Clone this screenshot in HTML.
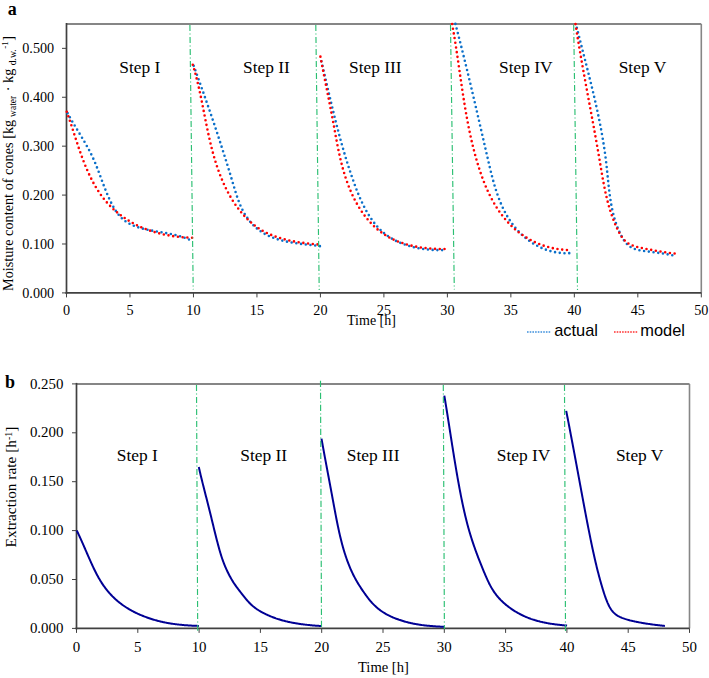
<!DOCTYPE html>
<html><head><meta charset="utf-8"><title>Moisture content and extraction rate</title>
<style>html,body{margin:0;padding:0;background:#fff;}svg{display:block;}text{font-family:"Liberation Serif",serif;fill:#000;}.sans{font-family:"Liberation Sans",sans-serif;}</style></head><body>
<svg width="709" height="678" viewBox="0 0 709 678">
<rect width="709" height="678" fill="#fff"/>
<line x1="66.5" y1="23.9" x2="701.3" y2="23.9" stroke="#868686" stroke-width="2"/>
<line x1="701.3" y1="23.9" x2="701.3" y2="292.9" stroke="#868686" stroke-width="1.6"/>
<line x1="62" y1="292.9" x2="66.5" y2="292.9" stroke="#404040" stroke-width="1"/>
<text x="54.2" y="297.5" font-size="14.2" text-anchor="end">0.000</text>
<line x1="62" y1="243.99" x2="66.5" y2="243.99" stroke="#404040" stroke-width="1"/>
<text x="54.2" y="248.59" font-size="14.2" text-anchor="end">0.100</text>
<line x1="62" y1="195.08" x2="66.5" y2="195.08" stroke="#404040" stroke-width="1"/>
<text x="54.2" y="199.68" font-size="14.2" text-anchor="end">0.200</text>
<line x1="62" y1="146.17" x2="66.5" y2="146.17" stroke="#404040" stroke-width="1"/>
<text x="54.2" y="150.77" font-size="14.2" text-anchor="end">0.300</text>
<line x1="62" y1="97.26" x2="66.5" y2="97.26" stroke="#404040" stroke-width="1"/>
<text x="54.2" y="101.86" font-size="14.2" text-anchor="end">0.400</text>
<line x1="62" y1="48.35" x2="66.5" y2="48.35" stroke="#404040" stroke-width="1"/>
<text x="54.2" y="52.95" font-size="14.2" text-anchor="end">0.500</text>
<line x1="66.5" y1="292.9" x2="66.5" y2="297.4" stroke="#404040" stroke-width="1"/>
<text x="66.5" y="314.8" font-size="14.2" text-anchor="middle">0</text>
<line x1="129.98" y1="292.9" x2="129.98" y2="297.4" stroke="#404040" stroke-width="1"/>
<text x="129.98" y="314.8" font-size="14.2" text-anchor="middle">5</text>
<line x1="193.46" y1="292.9" x2="193.46" y2="297.4" stroke="#404040" stroke-width="1"/>
<text x="193.46" y="314.8" font-size="14.2" text-anchor="middle">10</text>
<line x1="256.94" y1="292.9" x2="256.94" y2="297.4" stroke="#404040" stroke-width="1"/>
<text x="256.94" y="314.8" font-size="14.2" text-anchor="middle">15</text>
<line x1="320.42" y1="292.9" x2="320.42" y2="297.4" stroke="#404040" stroke-width="1"/>
<text x="320.42" y="314.8" font-size="14.2" text-anchor="middle">20</text>
<line x1="383.9" y1="292.9" x2="383.9" y2="297.4" stroke="#404040" stroke-width="1"/>
<text x="383.9" y="314.8" font-size="14.2" text-anchor="middle">25</text>
<line x1="447.38" y1="292.9" x2="447.38" y2="297.4" stroke="#404040" stroke-width="1"/>
<text x="447.38" y="314.8" font-size="14.2" text-anchor="middle">30</text>
<line x1="510.86" y1="292.9" x2="510.86" y2="297.4" stroke="#404040" stroke-width="1"/>
<text x="510.86" y="314.8" font-size="14.2" text-anchor="middle">35</text>
<line x1="574.34" y1="292.9" x2="574.34" y2="297.4" stroke="#404040" stroke-width="1"/>
<text x="574.34" y="314.8" font-size="14.2" text-anchor="middle">40</text>
<line x1="637.82" y1="292.9" x2="637.82" y2="297.4" stroke="#404040" stroke-width="1"/>
<text x="637.82" y="314.8" font-size="14.2" text-anchor="middle">45</text>
<line x1="701.3" y1="292.9" x2="701.3" y2="297.4" stroke="#404040" stroke-width="1"/>
<text x="701.3" y="314.8" font-size="14.2" text-anchor="middle">50</text>
<line x1="66.5" y1="22.9" x2="66.5" y2="293.9" stroke="#404040" stroke-width="1.7"/>
<line x1="65.5" y1="292.9" x2="701.3" y2="292.9" stroke="#404040" stroke-width="1.7"/>
<path d="M66.84,111.72 L67.13,112.28 L67.43,112.84 L67.73,113.4 L68.03,113.97 L68.34,114.53 L68.64,115.08 L68.95,115.64 L69.26,116.2 L69.57,116.76 L69.88,117.31 L70.19,117.87 L70.51,118.42 L70.82,118.98 L71.14,119.53 L71.46,120.08 L71.78,120.63 L72.1,121.18 L72.42,121.73 L72.74,122.28 L73.07,122.83 L73.39,123.38 L73.72,123.93 L74.04,124.48 L74.37,125.03 L74.7,125.57 L75.03,126.12 L75.36,126.67 L75.69,127.21 L76.02,127.76 L76.35,128.3 L76.68,128.85 L77.01,129.39 L77.34,129.94 L77.67,130.49 L78,131.03 L78.33,131.58 L78.66,132.12 L78.99,132.67 L79.32,133.21 L79.65,133.76 L79.98,134.3 L80.31,134.85 L80.64,135.39 L80.97,135.94 L81.3,136.48 L81.63,137.03 L81.96,137.58 L82.28,138.12 L82.61,138.67 L82.93,139.22 L83.26,139.77 L83.58,140.31 L83.9,140.86 L84.23,141.41 L84.55,141.96 L84.87,142.51 L85.18,143.06 L85.5,143.62 L85.82,144.17 L86.13,144.72 L86.44,145.27 L86.76,145.83 L87.07,146.38 L87.37,146.94 L87.68,147.5 L87.99,148.05 L88.29,148.61 L88.59,149.17 L88.89,149.73 L89.19,150.29 L89.48,150.85 L89.78,151.42 L90.07,151.98 L90.36,152.55 L90.64,153.11 L90.93,153.68 L91.21,154.25 L91.49,154.82 L91.77,155.39 L92.05,155.96 L92.32,156.54 L92.59,157.11 L92.86,157.69 L93.12,158.26 L93.38,158.84 L93.64,159.42 L93.9,160 L94.16,160.59 L94.41,161.17 L94.66,161.75 L94.91,162.34 L95.16,162.93 L95.4,163.51 L95.64,164.1 L95.89,164.69 L96.13,165.28 L96.36,165.87 L96.6,166.47 L96.84,167.06 L97.07,167.65 L97.3,168.25 L97.53,168.84 L97.76,169.44 L97.99,170.03 L98.22,170.63 L98.45,171.23 L98.68,171.82 L98.9,172.42 L99.13,173.02 L99.35,173.62 L99.58,174.22 L99.8,174.82 L100.02,175.42 L100.24,176.02 L100.47,176.62 L100.69,177.22 L100.91,177.82 L101.13,178.42 L101.36,179.02 L101.58,179.62 L101.8,180.22 L102.02,180.83 L102.25,181.43 L102.47,182.03 L102.7,182.63 L102.92,183.23 L103.15,183.83 L103.37,184.43 L103.6,185.03 L103.83,185.63 L104.06,186.23 L104.29,186.83 L104.52,187.42 L104.75,188.02 L104.98,188.62 L105.22,189.22 L105.46,189.81 L105.69,190.41 L105.93,191 L106.17,191.6 L106.42,192.19 L106.66,192.79 L106.91,193.38 L107.16,193.97 L107.41,194.56 L107.66,195.15 L107.91,195.74 L108.17,196.33 L108.43,196.92 L108.69,197.5 L108.96,198.09 L109.22,198.67 L109.49,199.25 L109.76,199.84 L110.04,200.42 L110.32,201 L110.6,201.57 L110.88,202.15 L111.17,202.73 L111.46,203.3 L111.75,203.87 L112.05,204.44 L112.35,205.01 L112.65,205.57 L112.96,206.14 L113.27,206.7 L113.59,207.25 L113.91,207.8 L114.23,208.35 L114.56,208.9 L114.9,209.44 L115.23,209.97 L115.58,210.51 L115.92,211.03 L116.28,211.55 L116.64,212.07 L117,212.58 L117.37,213.09 L117.74,213.59 L118.12,214.08 L118.51,214.57 L118.9,215.05 L119.3,215.53 L119.7,215.99 L120.11,216.45 L120.53,216.91 L120.95,217.35 L121.38,217.79 L121.82,218.22 L122.26,218.64 L122.71,219.05 L123.17,219.46 L123.63,219.85 L124.1,220.24 L124.58,220.61 L125.07,220.98 L125.56,221.34 L126.06,221.69 L126.57,222.03 L127.09,222.36 L127.61,222.68 L128.13,223 L128.67,223.3 L129.21,223.6 L129.75,223.89 L130.31,224.17 L130.86,224.45 L131.42,224.71 L131.99,224.97 L132.56,225.23 L133.14,225.47 L133.72,225.71 L134.31,225.95 L134.89,226.17 L135.49,226.39 L136.09,226.61 L136.69,226.82 L137.29,227.02 L137.9,227.22 L138.51,227.41 L139.12,227.6 L139.74,227.78 L140.35,227.96 L140.97,228.13 L141.6,228.3 L142.22,228.47 L142.85,228.63 L143.48,228.78 L144.1,228.94 L144.73,229.09 L145.37,229.23 L146,229.38 L146.63,229.52 L147.26,229.65 L147.9,229.79 L148.53,229.92 L149.16,230.05 L149.8,230.18 L150.43,230.3 L151.07,230.43 L151.7,230.55 L152.34,230.67 L152.97,230.79 L153.61,230.9 L154.24,231.02 L154.88,231.13 L155.51,231.24 L156.15,231.36 L156.79,231.47 L157.42,231.58 L158.06,231.69 L158.69,231.8 L159.33,231.9 L159.96,232.01 L160.6,232.12 L161.23,232.23 L161.86,232.34 L162.5,232.45 L163.13,232.56 L163.76,232.67 L164.39,232.78 L165.03,232.89 L165.66,233.01 L166.29,233.12 L166.92,233.24 L167.55,233.36 L168.17,233.47 L168.8,233.59 L169.43,233.72 L170.05,233.84 L170.68,233.97 L171.3,234.1 L171.93,234.23 L172.55,234.36 L173.17,234.5 L173.79,234.64 L174.41,234.78 L175.03,234.93 L175.64,235.07 L176.26,235.23 L176.87,235.38 L177.49,235.54 L178.1,235.7 L178.71,235.87 L179.32,236.04 L179.93,236.21 L180.53,236.39 L181.14,236.58 L181.74,236.76 L182.34,236.96 L182.94,237.15 L183.54,237.35 L184.14,237.56 L184.73,237.77 L185.33,237.99 L185.92,238.22 L186.51,238.44 L187.1,238.68 L187.68,238.92 L188.27,239.17 L188.85,239.42 L189.43,239.68 L190.01,239.94 L190.59,240.21 L191.16,240.49 L191.73,240.78 L192.3,241.07 L192.65,241.25" fill="none" stroke="#0a6fc9" stroke-width="2.6" stroke-linecap="round" stroke-dasharray="0 4.75" stroke-dashoffset="3.12"/>
<path d="M193.63,65.63 L193.84,66.21 L194.06,66.79 L194.27,67.37 L194.48,67.95 L194.69,68.53 L194.9,69.11 L195.11,69.69 L195.32,70.27 L195.53,70.85 L195.74,71.43 L195.95,72.01 L196.16,72.58 L196.37,73.16 L196.58,73.74 L196.79,74.32 L197,74.9 L197.21,75.47 L197.42,76.05 L197.63,76.63 L197.83,77.2 L198.04,77.78 L198.25,78.36 L198.46,78.93 L198.66,79.51 L198.87,80.09 L199.08,80.66 L199.28,81.24 L199.49,81.82 L199.7,82.39 L199.9,82.97 L200.11,83.54 L200.32,84.12 L200.52,84.69 L200.73,85.27 L200.93,85.84 L201.14,86.42 L201.34,86.99 L201.54,87.57 L201.75,88.14 L201.95,88.71 L202.16,89.29 L202.36,89.86 L202.56,90.44 L202.77,91.01 L202.97,91.59 L203.17,92.16 L203.38,92.73 L203.58,93.31 L203.78,93.88 L203.98,94.45 L204.18,95.03 L204.39,95.6 L204.59,96.17 L204.79,96.75 L204.99,97.32 L205.19,97.89 L205.39,98.46 L205.59,99.04 L205.79,99.61 L205.99,100.18 L206.19,100.76 L206.39,101.33 L206.59,101.9 L206.79,102.47 L206.99,103.05 L207.19,103.62 L207.39,104.19 L207.59,104.76 L207.79,105.34 L207.98,105.91 L208.18,106.48 L208.38,107.05 L208.58,107.62 L208.77,108.2 L208.97,108.77 L209.17,109.34 L209.37,109.91 L209.56,110.49 L209.76,111.06 L209.96,111.63 L210.15,112.2 L210.35,112.77 L210.54,113.35 L210.74,113.92 L210.93,114.49 L211.13,115.06 L211.32,115.64 L211.52,116.21 L211.71,116.78 L211.91,117.35 L212.1,117.93 L212.3,118.5 L212.49,119.07 L212.68,119.64 L212.88,120.22 L213.07,120.79 L213.26,121.36 L213.46,121.93 L213.65,122.51 L213.84,123.08 L214.04,123.65 L214.23,124.22 L214.42,124.8 L214.61,125.37 L214.8,125.94 L215,126.52 L215.19,127.09 L215.38,127.66 L215.57,128.24 L215.76,128.81 L215.95,129.38 L216.14,129.96 L216.33,130.53 L216.52,131.1 L216.71,131.68 L216.9,132.25 L217.09,132.83 L217.28,133.4 L217.47,133.97 L217.66,134.55 L217.85,135.12 L218.04,135.7 L218.23,136.27 L218.41,136.85 L218.6,137.42 L218.79,138 L218.98,138.57 L219.17,139.15 L219.35,139.72 L219.54,140.3 L219.73,140.87 L219.92,141.45 L220.1,142.03 L220.29,142.6 L220.48,143.18 L220.66,143.75 L220.85,144.33 L221.04,144.91 L221.22,145.48 L221.41,146.06 L221.59,146.64 L221.78,147.22 L221.96,147.79 L222.15,148.37 L222.33,148.95 L222.52,149.53 L222.7,150.11 L222.89,150.68 L223.07,151.26 L223.26,151.84 L223.44,152.42 L223.62,153 L223.81,153.58 L223.99,154.16 L224.17,154.74 L224.36,155.32 L224.54,155.9 L224.72,156.48 L224.91,157.06 L225.09,157.64 L225.27,158.22 L225.45,158.8 L225.64,159.38 L225.82,159.97 L226,160.55 L226.18,161.13 L226.36,161.71 L226.54,162.29 L226.72,162.88 L226.91,163.46 L227.09,164.04 L227.27,164.63 L227.45,165.21 L227.63,165.79 L227.81,166.38 L227.99,166.96 L228.17,167.55 L228.35,168.13 L228.53,168.72 L228.71,169.3 L228.89,169.89 L229.07,170.48 L229.24,171.06 L229.42,171.65 L229.6,172.24 L229.78,172.82 L229.96,173.41 L230.14,174 L230.31,174.59 L230.49,175.18 L230.67,175.76 L230.85,176.35 L231.03,176.94 L231.2,177.53 L231.38,178.12 L231.56,178.71 L231.73,179.3 L231.91,179.89 L232.09,180.48 L232.26,181.08 L232.44,181.67 L232.62,182.26 L232.79,182.85 L232.97,183.44 L233.14,184.04 L233.32,184.63 L233.5,185.22 L233.67,185.82 L233.85,186.41 L234.03,187 L234.2,187.6 L234.38,188.19 L234.56,188.78 L234.74,189.37 L234.92,189.97 L235.1,190.56 L235.29,191.15 L235.47,191.74 L235.65,192.33 L235.84,192.92 L236.03,193.51 L236.22,194.09 L236.41,194.68 L236.6,195.26 L236.8,195.85 L236.99,196.43 L237.19,197.01 L237.39,197.59 L237.59,198.17 L237.8,198.75 L238.01,199.33 L238.22,199.9 L238.43,200.48 L238.64,201.05 L238.86,201.62 L239.08,202.19 L239.3,202.75 L239.53,203.32 L239.76,203.88 L239.99,204.44 L240.22,205 L240.46,205.56 L240.71,206.11 L240.95,206.66 L241.2,207.21 L241.45,207.76 L241.71,208.31 L241.97,208.85 L242.24,209.39 L242.5,209.92 L242.8,210.51 L243.11,211.1 L243.42,211.68 L243.74,212.25 L244.06,212.83 L244.39,213.4 L244.72,213.96 L245.06,214.53 L245.4,215.08 L245.75,215.64 L246.11,216.19 L246.47,216.73 L246.84,217.27 L247.21,217.81 L247.59,218.34 L247.98,218.87 L248.37,219.39 L248.76,219.91 L249.17,220.43 L249.57,220.94 L249.99,221.44 L250.41,221.94 L250.83,222.44 L251.26,222.93 L251.69,223.41 L252.13,223.89 L252.58,224.36 L253.03,224.83 L253.49,225.29 L253.95,225.75 L254.42,226.2 L254.89,226.65 L255.37,227.09 L255.85,227.53 L256.34,227.95 L256.83,228.38 L257.33,228.79 L257.84,229.2 L258.35,229.61 L258.86,230.01 L259.38,230.4 L259.9,230.79 L260.43,231.16 L260.97,231.54 L261.51,231.9 L262.05,232.26 L262.6,232.62 L263.15,232.96 L263.71,233.3 L264.28,233.63 L264.84,233.96 L265.42,234.28 L266,234.59 L266.58,234.89 L267.17,235.19 L267.76,235.48 L268.35,235.76 L268.9,236.02 L269.44,236.27 L270,236.51 L270.55,236.75 L271.11,236.98 L271.67,237.21 L272.23,237.43 L272.8,237.65 L273.37,237.86 L273.94,238.07 L274.52,238.28 L275.09,238.48 L275.67,238.67 L276.25,238.86 L276.84,239.05 L277.43,239.23 L278.01,239.41 L278.61,239.59 L279.2,239.76 L279.79,239.92 L280.39,240.09 L280.99,240.25 L281.59,240.4 L282.19,240.55 L282.79,240.7 L283.4,240.85 L284.01,240.99 L284.61,241.13 L285.22,241.26 L285.83,241.4 L286.44,241.53 L287.05,241.65 L287.67,241.78 L288.28,241.9 L288.9,242.01 L289.51,242.13 L290.13,242.24 L290.74,242.35 L291.36,242.46 L291.98,242.56 L292.6,242.67 L293.21,242.77 L293.83,242.87 L294.45,242.96 L295.07,243.06 L295.69,243.15 L296.31,243.24 L296.92,243.33 L297.54,243.41 L298.16,243.5 L298.78,243.58 L299.39,243.67 L300.01,243.75 L300.62,243.83 L301.24,243.9 L301.85,243.98 L302.46,244.06 L303.07,244.13 L303.68,244.2 L304.29,244.28 L304.9,244.35 L305.51,244.42 L306.11,244.49 L306.72,244.56 L307.32,244.63 L307.92,244.7 L308.52,244.77 L309.11,244.84 L309.77,244.91 L310.42,244.99 L311.07,245.06 L311.72,245.14 L312.36,245.21 L313.01,245.29 L313.65,245.36 L314.28,245.44 L314.92,245.51 L315.55,245.59 L316.17,245.67 L316.8,245.75 L317.42,245.83 L318.03,245.91 L318.64,245.99 L319.25,246.07 L319.86,246.15 L320.13,246.19" fill="none" stroke="#0a6fc9" stroke-width="2.6" stroke-linecap="round" stroke-dasharray="0 4.75" stroke-dashoffset="4.51"/>
<path d="M320.36,56.97 L320.51,57.59 L320.66,58.21 L320.81,58.84 L320.95,59.46 L321.1,60.08 L321.25,60.7 L321.4,61.32 L321.54,61.94 L321.69,62.56 L321.84,63.18 L321.99,63.8 L322.13,64.42 L322.28,65.05 L322.43,65.67 L322.57,66.29 L322.72,66.91 L322.86,67.53 L323.01,68.15 L323.15,68.77 L323.3,69.39 L323.45,70.01 L323.59,70.63 L323.74,71.25 L323.88,71.87 L324.03,72.49 L324.17,73.11 L324.32,73.72 L324.46,74.34 L324.61,74.96 L324.75,75.58 L324.89,76.2 L325.04,76.82 L325.18,77.44 L325.33,78.06 L325.47,78.68 L325.62,79.3 L325.76,79.91 L325.91,80.53 L326.05,81.15 L326.19,81.77 L326.34,82.39 L326.48,83.01 L326.63,83.62 L326.77,84.24 L326.92,84.86 L327.06,85.48 L327.2,86.1 L327.35,86.71 L327.49,87.33 L327.64,87.95 L327.78,88.56 L327.93,89.18 L328.07,89.8 L328.22,90.42 L328.36,91.03 L328.5,91.65 L328.65,92.27 L328.79,92.88 L328.94,93.5 L329.08,94.12 L329.23,94.73 L329.38,95.35 L329.52,95.97 L329.67,96.58 L329.81,97.2 L329.96,97.81 L330.1,98.43 L330.25,99.05 L330.4,99.66 L330.54,100.28 L330.69,100.89 L330.84,101.51 L330.98,102.12 L331.13,102.74 L331.28,103.35 L331.42,103.97 L331.57,104.58 L331.72,105.2 L331.87,105.81 L332.02,106.43 L332.16,107.04 L332.31,107.66 L332.46,108.27 L332.61,108.89 L332.76,109.5 L332.91,110.11 L333.06,110.73 L333.21,111.34 L333.36,111.96 L333.51,112.57 L333.66,113.18 L333.81,113.8 L333.96,114.41 L334.11,115.02 L334.27,115.64 L334.42,116.25 L334.57,116.86 L334.72,117.48 L334.88,118.09 L335.03,118.7 L335.18,119.31 L335.34,119.93 L335.49,120.54 L335.64,121.15 L335.8,121.76 L335.96,122.38 L336.11,122.99 L336.27,123.6 L336.42,124.21 L336.58,124.82 L336.74,125.44 L336.89,126.05 L337.05,126.66 L337.21,127.27 L337.37,127.88 L337.53,128.49 L337.69,129.1 L337.85,129.71 L338.01,130.33 L338.17,130.94 L338.33,131.55 L338.49,132.16 L338.65,132.77 L338.81,133.38 L338.98,133.99 L339.14,134.6 L339.3,135.21 L339.47,135.82 L339.63,136.43 L339.8,137.04 L339.96,137.65 L340.13,138.26 L340.3,138.87 L340.46,139.48 L340.63,140.09 L340.8,140.7 L340.97,141.3 L341.14,141.91 L341.31,142.52 L341.48,143.13 L341.65,143.74 L341.82,144.35 L341.99,144.96 L342.16,145.57 L342.33,146.17 L342.51,146.78 L342.68,147.39 L342.86,148 L343.03,148.61 L343.21,149.21 L343.38,149.82 L343.56,150.43 L343.74,151.04 L343.91,151.64 L344.09,152.25 L344.27,152.86 L344.45,153.46 L344.63,154.07 L344.81,154.68 L345,155.29 L345.18,155.89 L345.36,156.5 L345.54,157.1 L345.73,157.71 L345.91,158.32 L346.1,158.92 L346.29,159.53 L346.47,160.14 L346.66,160.74 L346.85,161.35 L347.04,161.95 L347.23,162.56 L347.42,163.16 L347.61,163.77 L347.8,164.37 L347.99,164.98 L348.19,165.58 L348.38,166.19 L348.57,166.79 L348.77,167.4 L348.97,168 L349.16,168.61 L349.36,169.21 L349.56,169.81 L349.76,170.42 L349.96,171.02 L350.16,171.63 L350.36,172.23 L350.56,172.83 L350.77,173.44 L350.97,174.04 L351.17,174.64 L351.38,175.25 L351.59,175.85 L351.79,176.45 L352,177.06 L352.21,177.66 L352.42,178.26 L352.63,178.86 L352.84,179.47 L353.05,180.07 L353.27,180.67 L353.48,181.27 L353.7,181.87 L353.91,182.48 L354.13,183.08 L354.35,183.68 L354.56,184.28 L354.78,184.88 L355,185.48 L355.23,186.08 L355.45,186.68 L355.67,187.28 L355.9,187.88 L356.13,188.48 L356.35,189.08 L356.58,189.68 L356.81,190.27 L357.05,190.87 L357.28,191.46 L357.52,192.06 L357.75,192.65 L357.99,193.25 L358.23,193.84 L358.48,194.43 L358.72,195.02 L358.97,195.61 L359.21,196.2 L359.46,196.79 L359.71,197.38 L359.97,197.97 L360.22,198.55 L360.48,199.14 L360.74,199.72 L361,200.3 L361.27,200.88 L361.53,201.46 L361.8,202.04 L362.07,202.62 L362.35,203.19 L362.62,203.77 L362.9,204.34 L363.18,204.91 L363.46,205.48 L363.75,206.05 L364.04,206.62 L364.33,207.19 L364.62,207.75 L364.92,208.31 L365.22,208.87 L365.52,209.43 L365.83,209.99 L366.13,210.55 L366.44,211.1 L366.76,211.65 L367.08,212.2 L367.4,212.75 L367.72,213.3 L368.04,213.84 L368.37,214.38 L368.71,214.92 L369.04,215.46 L369.38,216 L369.72,216.53 L370.07,217.06 L370.42,217.59 L370.77,218.11 L371.13,218.64 L371.48,219.15 L371.85,219.67 L372.21,220.19 L372.58,220.7 L372.95,221.2 L373.33,221.71 L373.71,222.21 L374.09,222.71 L374.48,223.2 L374.87,223.69 L375.27,224.18 L375.66,224.66 L376.06,225.14 L376.47,225.62 L376.88,226.09 L377.29,226.56 L377.71,227.03 L378.13,227.49 L378.55,227.94 L378.98,228.4 L379.41,228.84 L379.85,229.29 L380.29,229.73 L380.73,230.16 L381.18,230.59 L381.63,231.01 L382.09,231.43 L382.55,231.85 L383.01,232.26 L383.48,232.67 L383.95,233.07 L384.43,233.46 L384.91,233.85 L385.39,234.24 L385.88,234.61 L386.38,234.99 L386.87,235.36 L387.38,235.72 L387.88,236.08 L388.39,236.43 L388.9,236.78 L389.42,237.12 L389.94,237.46 L390.47,237.79 L390.99,238.12 L391.52,238.44 L392.06,238.76 L392.6,239.07 L393.14,239.38 L393.69,239.68 L394.23,239.98 L394.79,240.27 L395.34,240.56 L395.9,240.84 L396.46,241.12 L397.02,241.4 L397.59,241.66 L398.16,241.93 L398.73,242.19 L399.31,242.44 L399.89,242.69 L400.47,242.94 L401.05,243.18 L401.64,243.41 L402.22,243.64 L402.82,243.87 L403.41,244.09 L404,244.31 L404.6,244.52 L405.2,244.73 L405.8,244.94 L406.41,245.14 L407.01,245.33 L407.62,245.53 L408.23,245.71 L408.84,245.89 L409.46,246.07 L410.07,246.25 L410.69,246.42 L411.31,246.58 L411.93,246.75 L412.55,246.9 L413.17,247.06 L413.79,247.21 L414.42,247.35 L415.05,247.49 L415.67,247.63 L416.3,247.76 L416.93,247.89 L417.56,248.02 L418.2,248.14 L418.83,248.26 L419.46,248.37 L420.1,248.48 L420.73,248.59 L421.37,248.69 L422.01,248.79 L422.64,248.88 L423.28,248.97 L423.92,249.06 L424.56,249.14 L425.2,249.22 L425.84,249.3 L426.48,249.37 L427.12,249.44 L427.76,249.51 L428.4,249.57 L429.04,249.63 L429.67,249.68 L430.31,249.74 L430.95,249.78 L431.59,249.83 L432.23,249.87 L432.87,249.91 L433.51,249.94 L434.14,249.98 L434.78,250 L435.42,250.03 L436.05,250.05 L436.69,250.07 L437.32,250.09 L437.96,250.1 L438.59,250.11 L439.22,250.12 L439.85,250.12 L440.48,250.12 L441.11,250.12 L441.74,250.11 L442.36,250.1 L442.99,250.09 L443.61,250.08 L444.17,250.06" fill="none" stroke="#0a6fc9" stroke-width="2.6" stroke-linecap="round" stroke-dasharray="0 4.75" stroke-dashoffset="0.34"/>
<path d="M455.24,23.28 L455.4,23.9 L455.56,24.52 L455.73,25.13 L455.89,25.75 L456.05,26.37 L456.21,26.98 L456.38,27.6 L456.54,28.22 L456.7,28.83 L456.86,29.45 L457.02,30.06 L457.18,30.68 L457.34,31.29 L457.5,31.91 L457.66,32.52 L457.82,33.14 L457.98,33.75 L458.14,34.37 L458.3,34.98 L458.46,35.59 L458.62,36.21 L458.78,36.82 L458.93,37.44 L459.09,38.05 L459.25,38.66 L459.41,39.27 L459.56,39.89 L459.72,40.5 L459.88,41.11 L460.03,41.72 L460.19,42.34 L460.34,42.95 L460.5,43.56 L460.65,44.17 L460.81,44.78 L460.96,45.39 L461.12,46.01 L461.27,46.62 L461.43,47.23 L461.58,47.84 L461.74,48.45 L461.89,49.06 L462.04,49.67 L462.2,50.28 L462.35,50.89 L462.5,51.5 L462.65,52.11 L462.81,52.72 L462.96,53.33 L463.11,53.94 L463.26,54.55 L463.41,55.16 L463.57,55.77 L463.72,56.38 L463.87,56.98 L464.02,57.59 L464.17,58.2 L464.32,58.81 L464.47,59.42 L464.62,60.03 L464.77,60.64 L464.92,61.24 L465.07,61.85 L465.22,62.46 L465.37,63.07 L465.52,63.68 L465.67,64.28 L465.81,64.89 L465.96,65.5 L466.11,66.11 L466.26,66.72 L466.41,67.32 L466.56,67.93 L466.7,68.54 L466.85,69.14 L467,69.75 L467.15,70.36 L467.29,70.97 L467.44,71.57 L467.59,72.18 L467.73,72.79 L467.88,73.39 L468.03,74 L468.17,74.61 L468.32,75.21 L468.46,75.82 L468.61,76.43 L468.76,77.03 L468.9,77.64 L469.05,78.25 L469.19,78.85 L469.34,79.46 L469.48,80.06 L469.63,80.67 L469.77,81.28 L469.92,81.88 L470.06,82.49 L470.21,83.1 L470.35,83.7 L470.49,84.31 L470.64,84.91 L470.78,85.52 L470.93,86.13 L471.07,86.73 L471.21,87.34 L471.36,87.94 L471.5,88.55 L471.65,89.16 L471.79,89.76 L471.93,90.37 L472.07,90.97 L472.22,91.58 L472.36,92.19 L472.5,92.79 L472.65,93.4 L472.79,94 L472.93,94.61 L473.07,95.22 L473.22,95.82 L473.36,96.43 L473.5,97.03 L473.64,97.64 L473.79,98.25 L473.93,98.85 L474.07,99.46 L474.21,100.07 L474.35,100.67 L474.5,101.28 L474.64,101.88 L474.78,102.49 L474.92,103.1 L475.06,103.7 L475.2,104.31 L475.34,104.92 L475.49,105.52 L475.63,106.13 L475.77,106.74 L475.91,107.34 L476.05,107.95 L476.19,108.56 L476.33,109.16 L476.47,109.77 L476.62,110.38 L476.76,110.98 L476.9,111.59 L477.04,112.2 L477.18,112.81 L477.32,113.41 L477.46,114.02 L477.6,114.63 L477.74,115.24 L477.88,115.84 L478.02,116.45 L478.16,117.06 L478.31,117.67 L478.45,118.28 L478.59,118.88 L478.73,119.49 L478.87,120.1 L479.01,120.71 L479.15,121.32 L479.29,121.93 L479.43,122.53 L479.57,123.14 L479.71,123.75 L479.85,124.36 L479.99,124.97 L480.13,125.58 L480.27,126.19 L480.41,126.8 L480.55,127.41 L480.7,128.02 L480.84,128.63 L480.98,129.24 L481.12,129.85 L481.26,130.46 L481.4,131.07 L481.54,131.68 L481.68,132.29 L481.82,132.9 L481.96,133.51 L482.1,134.12 L482.24,134.73 L482.38,135.34 L482.52,135.95 L482.67,136.57 L482.81,137.18 L482.95,137.79 L483.09,138.4 L483.23,139.01 L483.37,139.63 L483.51,140.24 L483.65,140.85 L483.79,141.46 L483.94,142.08 L484.08,142.69 L484.22,143.3 L484.36,143.92 L484.5,144.53 L484.64,145.14 L484.78,145.76 L484.93,146.37 L485.07,146.99 L485.21,147.6 L485.35,148.21 L485.49,148.83 L485.64,149.44 L485.78,150.06 L485.92,150.67 L486.06,151.29 L486.2,151.91 L486.35,152.52 L486.49,153.14 L486.63,153.75 L486.77,154.37 L486.92,154.99 L487.06,155.6 L487.2,156.22 L487.35,156.84 L487.49,157.46 L487.63,158.07 L487.78,158.69 L487.92,159.31 L488.06,159.93 L488.21,160.55 L488.35,161.17 L488.49,161.78 L488.64,162.4 L488.78,163.02 L488.93,163.64 L489.07,164.26 L489.22,164.88 L489.36,165.5 L489.51,166.12 L489.66,166.74 L489.81,167.36 L489.95,167.98 L490.1,168.59 L490.25,169.21 L490.4,169.83 L490.55,170.45 L490.7,171.07 L490.85,171.69 L491.01,172.3 L491.16,172.92 L491.32,173.54 L491.47,174.15 L491.63,174.77 L491.79,175.39 L491.94,176 L492.1,176.62 L492.26,177.23 L492.42,177.85 L492.59,178.46 L492.75,179.07 L492.92,179.69 L493.08,180.3 L493.25,180.91 L493.42,181.52 L493.59,182.13 L493.76,182.74 L493.93,183.35 L494.11,183.96 L494.28,184.56 L494.46,185.17 L494.64,185.78 L494.82,186.38 L495,186.99 L495.19,187.59 L495.37,188.19 L495.56,188.79 L495.75,189.39 L495.94,189.99 L496.13,190.59 L496.32,191.19 L496.52,191.79 L496.72,192.38 L496.92,192.98 L497.12,193.57 L497.32,194.16 L497.53,194.75 L497.74,195.35 L497.95,195.93 L498.16,196.52 L498.38,197.11 L498.59,197.69 L498.81,198.28 L499.03,198.86 L499.26,199.44 L499.48,200.02 L499.71,200.6 L499.94,201.18 L500.18,201.75 L500.41,202.33 L500.65,202.9 L500.89,203.47 L501.13,204.04 L501.38,204.61 L501.63,205.18 L501.88,205.74 L502.14,206.31 L502.39,206.87 L502.65,207.43 L502.91,207.99 L503.18,208.55 L503.45,209.1 L503.72,209.66 L503.99,210.21 L504.27,210.76 L504.55,211.31 L504.83,211.85 L505.12,212.4 L505.41,212.94 L505.7,213.48 L506,214.02 L506.3,214.56 L506.6,215.09 L506.91,215.62 L507.22,216.16 L507.53,216.68 L507.84,217.21 L508.16,217.74 L508.49,218.26 L508.81,218.78 L509.14,219.3 L509.48,219.81 L509.81,220.33 L510.15,220.84 L510.5,221.35 L510.85,221.86 L511.2,222.36 L511.56,222.86 L511.91,223.36 L512.28,223.86 L512.65,224.36 L513.02,224.85 L513.39,225.34 L513.77,225.83 L514.15,226.31 L514.54,226.8 L514.93,227.28 L515.33,227.75 L515.73,228.23 L516.13,228.7 L516.53,229.17 L516.94,229.64 L517.36,230.1 L517.78,230.56 L518.2,231.02 L518.62,231.47 L519.05,231.92 L519.49,232.37 L519.92,232.81 L520.36,233.26 L520.81,233.69 L521.25,234.13 L521.7,234.56 L522.16,234.99 L522.62,235.41 L523.08,235.83 L523.54,236.25 L524.01,236.66 L524.48,237.07 L524.96,237.47 L525.44,237.87 L525.92,238.27 L526.41,238.66 L526.9,239.05 L527.39,239.44 L527.88,239.82 L528.38,240.19 L528.88,240.57 L529.39,240.93 L529.9,241.3 L530.41,241.66 L530.93,242.01 L531.44,242.36 L531.96,242.71 L532.49,243.05 L533.02,243.38 L533.55,243.71 L534.08,244.04 L534.62,244.36 L535.16,244.68 L535.7,244.99 L536.25,245.29 L536.8,245.6 L537.35,245.89 L537.9,246.18 L538.46,246.47 L539.02,246.75 L539.58,247.02 L540.15,247.29 L540.72,247.56 L541.29,247.82 L541.86,248.07 L542.44,248.32 L543.02,248.56 L543.6,248.79 L544.19,249.02 L544.77,249.25 L545.36,249.47 L545.95,249.68 L546.55,249.89 L547.14,250.09 L547.74,250.29 L548.35,250.48 L548.95,250.66 L549.55,250.84 L550.16,251.01 L550.77,251.17 L551.38,251.33 L552,251.49 L552.62,251.63 L553.23,251.77 L553.85,251.91 L554.48,252.04 L555.1,252.16 L555.73,252.27 L556.35,252.38 L556.98,252.48 L557.61,252.58 L558.25,252.67 L558.88,252.75 L559.52,252.83 L560.16,252.9 L560.8,252.96 L561.44,253.02 L562.08,253.06 L562.72,253.11 L563.37,253.14 L564.01,253.17 L564.66,253.19 L565.31,253.21 L565.96,253.21 L566.61,253.21 L567.27,253.21 L567.92,253.19 L568.57,253.17 L569.23,253.14 L569.89,253.11 L570.55,253.06 L571.21,253.01 L571.87,252.96 L572.09,252.94" fill="none" stroke="#0a6fc9" stroke-width="2.6" stroke-linecap="round" stroke-dasharray="0 4.75" stroke-dashoffset="4.09"/>
<path d="M576.05,24.55 L576.2,25.16 L576.35,25.77 L576.5,26.38 L576.65,26.99 L576.8,27.6 L576.95,28.2 L577.11,28.81 L577.26,29.42 L577.41,30.03 L577.56,30.64 L577.71,31.25 L577.87,31.86 L578.02,32.47 L578.17,33.08 L578.33,33.69 L578.48,34.29 L578.63,34.9 L578.79,35.51 L578.94,36.12 L579.09,36.73 L579.25,37.33 L579.4,37.94 L579.56,38.55 L579.71,39.16 L579.87,39.77 L580.02,40.37 L580.18,40.98 L580.33,41.59 L580.48,42.19 L580.64,42.8 L580.79,43.41 L580.95,44.02 L581.1,44.62 L581.26,45.23 L581.42,45.84 L581.57,46.44 L581.73,47.05 L581.88,47.66 L582.04,48.26 L582.19,48.87 L582.35,49.47 L582.5,50.08 L582.66,50.69 L582.81,51.29 L582.97,51.9 L583.13,52.51 L583.28,53.11 L583.44,53.72 L583.59,54.32 L583.75,54.93 L583.9,55.53 L584.06,56.14 L584.21,56.75 L584.37,57.35 L584.52,57.96 L584.68,58.56 L584.83,59.17 L584.99,59.77 L585.15,60.38 L585.3,60.98 L585.46,61.59 L585.61,62.2 L585.76,62.8 L585.92,63.41 L586.07,64.01 L586.23,64.62 L586.38,65.22 L586.54,65.83 L586.69,66.43 L586.85,67.04 L587,67.64 L587.15,68.25 L587.31,68.85 L587.46,69.46 L587.61,70.06 L587.77,70.67 L587.92,71.27 L588.07,71.88 L588.23,72.48 L588.38,73.09 L588.53,73.69 L588.68,74.3 L588.83,74.9 L588.99,75.51 L589.14,76.11 L589.29,76.72 L589.44,77.32 L589.59,77.93 L589.74,78.53 L589.89,79.14 L590.04,79.74 L590.19,80.35 L590.34,80.96 L590.49,81.56 L590.64,82.17 L590.79,82.77 L590.94,83.38 L591.09,83.98 L591.24,84.59 L591.39,85.19 L591.53,85.8 L591.68,86.4 L591.83,87.01 L591.98,87.62 L592.12,88.22 L592.27,88.83 L592.41,89.43 L592.56,90.04 L592.71,90.65 L592.85,91.25 L593,91.86 L593.14,92.46 L593.28,93.07 L593.43,93.68 L593.57,94.28 L593.71,94.89 L593.86,95.49 L594,96.1 L594.14,96.71 L594.28,97.31 L594.42,97.92 L594.57,98.53 L594.71,99.13 L594.85,99.74 L594.99,100.35 L595.12,100.96 L595.26,101.56 L595.4,102.17 L595.54,102.78 L595.68,103.39 L595.82,103.99 L595.95,104.6 L596.09,105.21 L596.22,105.82 L596.36,106.42 L596.49,107.03 L596.63,107.64 L596.76,108.25 L596.9,108.86 L597.03,109.47 L597.16,110.07 L597.3,110.68 L597.43,111.29 L597.56,111.9 L597.69,112.51 L597.82,113.12 L597.95,113.73 L598.08,114.34 L598.21,114.95 L598.34,115.56 L598.46,116.17 L598.59,116.78 L598.72,117.39 L598.84,118 L598.97,118.61 L599.09,119.22 L599.22,119.83 L599.34,120.44 L599.46,121.05 L599.59,121.66 L599.71,122.27 L599.83,122.88 L599.95,123.49 L600.07,124.1 L600.19,124.72 L600.31,125.33 L600.43,125.94 L600.55,126.55 L600.67,127.16 L600.78,127.78 L600.9,128.39 L601.01,129 L601.13,129.62 L601.24,130.23 L601.36,130.84 L601.47,131.46 L601.58,132.07 L601.69,132.68 L601.8,133.3 L601.91,133.91 L602.02,134.52 L602.13,135.14 L602.24,135.75 L602.35,136.37 L602.46,136.98 L602.56,137.6 L602.67,138.21 L602.77,138.83 L602.88,139.45 L602.98,140.06 L603.08,140.68 L603.18,141.29 L603.28,141.91 L603.38,142.53 L603.48,143.15 L603.58,143.76 L603.68,144.38 L603.78,145 L603.88,145.62 L603.97,146.23 L604.07,146.85 L604.16,147.47 L604.25,148.09 L604.35,148.71 L604.44,149.33 L604.53,149.95 L604.62,150.57 L604.71,151.19 L604.8,151.81 L604.89,152.43 L604.97,153.05 L605.06,153.67 L605.14,154.29 L605.23,154.91 L605.31,155.53 L605.39,156.15 L605.48,156.77 L605.56,157.4 L605.64,158.02 L605.72,158.64 L605.8,159.26 L605.87,159.89 L605.95,160.51 L606.03,161.13 L606.1,161.76 L606.17,162.38 L606.25,163.01 L606.32,163.63 L606.39,164.26 L606.46,164.88 L606.53,165.51 L606.6,166.13 L606.67,166.76 L606.74,167.38 L606.8,168.01 L606.87,168.64 L606.93,169.26 L607,169.89 L607.07,170.52 L607.13,171.14 L607.19,171.77 L607.26,172.4 L607.32,173.02 L607.39,173.65 L607.45,174.28 L607.51,174.9 L607.57,175.53 L607.64,176.16 L607.7,176.79 L607.76,177.41 L607.83,178.04 L607.89,178.67 L607.95,179.29 L608.02,179.92 L608.08,180.55 L608.15,181.17 L608.21,181.8 L608.28,182.43 L608.34,183.05 L608.41,183.68 L608.48,184.3 L608.54,184.93 L608.61,185.55 L608.68,186.18 L608.75,186.8 L608.82,187.43 L608.89,188.05 L608.97,188.68 L609.04,189.3 L609.11,189.92 L609.19,190.55 L609.26,191.17 L609.34,191.79 L609.42,192.41 L609.5,193.03 L609.58,193.66 L609.66,194.28 L609.75,194.9 L609.83,195.52 L609.92,196.14 L610.01,196.75 L610.09,197.37 L610.19,197.99 L610.28,198.61 L610.37,199.23 L610.47,199.84 L610.57,200.46 L610.67,201.07 L610.77,201.69 L610.87,202.3 L610.97,202.91 L611.08,203.53 L611.19,204.14 L611.3,204.75 L611.42,205.36 L611.53,205.97 L611.65,206.58 L611.77,207.19 L611.89,207.8 L612.02,208.41 L612.14,209.01 L612.27,209.62 L612.4,210.22 L612.54,210.83 L612.67,211.43 L612.81,212.03 L612.96,212.64 L613.1,213.24 L613.25,213.84 L613.4,214.44 L613.55,215.04 L613.71,215.63 L613.87,216.23 L614.03,216.83 L614.19,217.42 L614.36,218.01 L614.53,218.61 L614.71,219.2 L614.89,219.79 L615.07,220.38 L615.25,220.97 L615.44,221.56 L615.63,222.14 L615.82,222.73 L616.02,223.31 L616.22,223.9 L616.43,224.48 L616.63,225.06 L616.85,225.64 L617.06,226.22 L617.28,226.8 L617.5,227.37 L617.73,227.95 L617.96,228.52 L618.2,229.1 L618.44,229.67 L618.68,230.24 L618.93,230.81 L619.18,231.38 L619.43,231.94 L619.69,232.51 L619.96,233.07 L620.22,233.64 L620.5,234.2 L620.77,234.76 L621.06,235.31 L621.34,235.86 L621.64,236.41 L621.93,236.96 L622.24,237.5 L622.55,238.04 L622.87,238.57 L623.19,239.09 L623.53,239.61 L623.86,240.12 L624.21,240.62 L624.57,241.11 L624.93,241.6 L625.3,242.08 L625.68,242.54 L626.07,243 L626.51,243.5 L626.97,243.98 L627.43,244.44 L627.91,244.9 L628.4,245.33 L628.91,245.75 L629.43,246.15 L629.96,246.54 L630.51,246.91 L631.07,247.25 L631.65,247.58 L632.24,247.89 L632.78,248.15 L633.34,248.39 L633.9,248.63 L634.48,248.84 L635.06,249.05 L635.66,249.24 L636.26,249.42 L636.87,249.59 L637.48,249.75 L638.1,249.9 L638.73,250.04 L639.36,250.18 L640,250.3 L640.64,250.42 L641.28,250.53 L641.93,250.64 L642.58,250.74 L643.22,250.84 L643.87,250.94 L644.53,251.03 L645.18,251.12 L645.82,251.21 L646.47,251.29 L647.12,251.38 L647.76,251.47 L648.4,251.55 L649.05,251.64 L649.69,251.72 L650.33,251.81 L650.96,251.89 L651.6,251.97 L652.23,252.06 L652.87,252.14 L653.5,252.22 L654.13,252.31 L654.76,252.39 L655.39,252.47 L656.02,252.56 L656.64,252.64 L657.27,252.73 L657.89,252.81 L658.51,252.9 L659.13,252.99 L659.75,253.08 L660.37,253.17 L660.99,253.26 L661.6,253.35 L662.22,253.44 L662.83,253.53 L663.45,253.63 L664.06,253.73 L664.67,253.83 L665.28,253.93 L665.89,254.03 L666.49,254.13 L667.1,254.24 L667.71,254.35 L668.31,254.46 L668.91,254.57 L669.51,254.69 L670.12,254.8 L670.72,254.92 L671.32,255.04 L671.91,255.17 L672.51,255.3 L673.11,255.43 L673.7,255.56 L674.3,255.7 L674.89,255.84 L675.48,255.98 L675.48,255.98" fill="none" stroke="#0a6fc9" stroke-width="2.6" stroke-linecap="round" stroke-dasharray="0 4.75" stroke-dashoffset="1.46"/>
<path d="M66.76,111.82 L66.98,112.43 L67.18,113 L67.38,113.56 L67.59,114.13 L67.79,114.7 L67.99,115.28 L68.19,115.85 L68.39,116.42 L68.59,117 L68.78,117.58 L68.98,118.16 L69.18,118.74 L69.38,119.32 L69.57,119.91 L69.77,120.49 L69.97,121.08 L70.16,121.66 L70.36,122.25 L70.55,122.84 L70.75,123.43 L70.94,124.03 L71.14,124.62 L71.33,125.21 L71.53,125.81 L71.72,126.4 L71.92,127 L72.11,127.6 L72.31,128.2 L72.5,128.8 L72.69,129.4 L72.89,130 L73.08,130.6 L73.28,131.21 L73.47,131.81 L73.67,132.41 L73.86,133.02 L74.06,133.62 L74.25,134.23 L74.45,134.84 L74.65,135.45 L74.84,136.05 L75.04,136.66 L75.24,137.27 L75.43,137.88 L75.63,138.49 L75.83,139.1 L76.03,139.71 L76.23,140.32 L76.43,140.94 L76.63,141.55 L76.83,142.16 L77.03,142.77 L77.24,143.38 L77.44,144 L77.64,144.61 L77.85,145.22 L78.05,145.83 L78.26,146.45 L78.47,147.06 L78.67,147.67 L78.88,148.28 L79.09,148.9 L79.3,149.51 L79.51,150.12 L79.73,150.73 L79.94,151.35 L80.15,151.96 L80.37,152.57 L80.59,153.18 L80.8,153.79 L81.02,154.4 L81.24,155.01 L81.46,155.62 L81.69,156.23 L81.91,156.84 L82.13,157.45 L82.36,158.06 L82.59,158.66 L82.81,159.27 L83.04,159.88 L83.28,160.48 L83.51,161.09 L83.74,161.69 L83.98,162.29 L84.21,162.9 L84.45,163.5 L84.69,164.1 L84.93,164.7 L85.18,165.3 L85.42,165.9 L85.67,166.5 L85.92,167.09 L86.17,167.69 L86.42,168.28 L86.67,168.88 L86.93,169.47 L87.18,170.06 L87.44,170.65 L87.7,171.24 L87.96,171.83 L88.23,172.41 L88.49,173 L88.76,173.58 L89.03,174.17 L89.3,174.75 L89.58,175.33 L89.85,175.91 L90.13,176.48 L90.41,177.06 L90.69,177.63 L90.98,178.21 L91.26,178.78 L91.55,179.35 L91.84,179.92 L92.14,180.48 L92.43,181.05 L92.73,181.61 L93.03,182.17 L93.33,182.73 L93.64,183.29 L93.95,183.85 L94.26,184.4 L94.57,184.95 L94.88,185.5 L95.2,186.05 L95.52,186.6 L95.84,187.14 L96.17,187.69 L96.5,188.23 L96.83,188.77 L97.16,189.3 L97.5,189.84 L97.84,190.37 L98.18,190.9 L98.52,191.43 L98.87,191.95 L99.22,192.48 L99.57,193 L99.93,193.51 L100.28,194.03 L100.64,194.55 L101.01,195.06 L101.38,195.57 L101.75,196.07 L102.12,196.58 L102.5,197.08 L102.88,197.58 L103.26,198.07 L103.64,198.57 L104.03,199.06 L104.43,199.55 L104.82,200.03 L105.22,200.52 L105.62,201 L106.03,201.47 L106.43,201.95 L106.85,202.42 L107.26,202.89 L107.68,203.35 L108.1,203.82 L108.53,204.28 L108.96,204.74 L109.39,205.19 L109.82,205.64 L110.26,206.09 L110.7,206.53 L111.15,206.98 L111.6,207.42 L112.05,207.85 L112.5,208.29 L112.96,208.72 L113.42,209.14 L113.88,209.57 L114.35,209.99 L114.82,210.41 L115.29,210.83 L115.77,211.24 L116.25,211.65 L116.73,212.05 L117.21,212.46 L117.7,212.86 L118.19,213.25 L118.68,213.65 L119.18,214.04 L119.67,214.43 L120.18,214.81 L120.68,215.19 L121.19,215.57 L121.69,215.95 L122.21,216.32 L122.72,216.69 L123.24,217.05 L123.76,217.42 L124.28,217.78 L124.8,218.13 L125.33,218.49 L125.86,218.84 L126.39,219.18 L126.92,219.53 L127.46,219.87 L128,220.21 L128.54,220.54 L129.08,220.87 L129.63,221.2 L130.17,221.52 L130.72,221.84 L131.28,222.16 L131.83,222.48 L132.39,222.79 L132.95,223.1 L133.51,223.4 L134.07,223.7 L134.63,224 L135.2,224.3 L135.77,224.59 L136.34,224.88 L136.91,225.16 L137.49,225.44 L138.06,225.72 L138.64,226 L139.22,226.27 L139.8,226.54 L140.39,226.8 L140.97,227.06 L141.56,227.32 L142.15,227.58 L142.74,227.83 L143.33,228.08 L143.93,228.32 L144.52,228.56 L145.12,228.8 L145.72,229.03 L146.32,229.27 L146.92,229.49 L147.52,229.72 L148.13,229.94 L148.73,230.15 L149.34,230.37 L149.95,230.58 L150.56,230.79 L151.17,230.99 L151.78,231.19 L152.4,231.39 L153.01,231.58 L153.63,231.77 L154.24,231.96 L154.86,232.14 L155.48,232.32 L156.1,232.5 L156.72,232.68 L157.35,232.85 L157.97,233.02 L158.59,233.18 L159.22,233.34 L159.84,233.5 L160.47,233.66 L161.1,233.81 L161.72,233.96 L162.35,234.1 L162.98,234.25 L163.61,234.39 L164.24,234.52 L164.87,234.66 L165.51,234.79 L166.14,234.92 L166.77,235.04 L167.4,235.16 L168.04,235.28 L168.67,235.4 L169.3,235.51 L169.94,235.62 L170.57,235.73 L171.21,235.83 L171.84,235.93 L172.48,236.03 L173.11,236.13 L173.75,236.22 L174.38,236.31 L175.02,236.4 L175.65,236.48 L176.29,236.57 L176.92,236.65 L177.56,236.72 L178.19,236.8 L178.83,236.87 L179.46,236.93 L180.09,237 L180.73,237.06 L181.36,237.12 L181.99,237.18 L182.63,237.24 L183.26,237.29 L183.89,237.34 L184.52,237.38 L185.15,237.43 L185.78,237.47 L186.41,237.51 L187.04,237.55 L187.67,237.58 L188.3,237.61 L188.93,237.64 L189.55,237.67 L190.18,237.69 L190.8,237.72 L191.43,237.73 L192.05,237.75 L192.67,237.77 L193.01,237.77" fill="none" stroke="#ff0000" stroke-width="2.6" stroke-linecap="round" stroke-dasharray="0 4.75"/>
<path d="M192.79,64.68 L192.97,65.26 L193.14,65.85 L193.32,66.43 L193.5,67.01 L193.67,67.59 L193.84,68.17 L194.01,68.76 L194.18,69.34 L194.35,69.93 L194.51,70.51 L194.68,71.1 L194.84,71.68 L195,72.27 L195.17,72.86 L195.33,73.44 L195.48,74.03 L195.64,74.62 L195.8,75.21 L195.95,75.79 L196.11,76.38 L196.26,76.97 L196.41,77.56 L196.56,78.15 L196.71,78.74 L196.86,79.34 L197.01,79.93 L197.15,80.52 L197.3,81.11 L197.44,81.7 L197.59,82.3 L197.73,82.89 L197.87,83.48 L198.01,84.08 L198.15,84.67 L198.29,85.26 L198.43,85.86 L198.57,86.45 L198.7,87.05 L198.84,87.65 L198.97,88.24 L199.11,88.84 L199.24,89.43 L199.37,90.03 L199.51,90.63 L199.64,91.22 L199.77,91.82 L199.9,92.42 L200.03,93.02 L200.16,93.61 L200.28,94.21 L200.41,94.81 L200.54,95.41 L200.66,96.01 L200.79,96.61 L200.92,97.21 L201.04,97.81 L201.16,98.41 L201.29,99.01 L201.41,99.61 L201.54,100.21 L201.66,100.81 L201.78,101.41 L201.9,102.01 L202.02,102.61 L202.15,103.21 L202.27,103.81 L202.39,104.41 L202.51,105.01 L202.63,105.61 L202.75,106.21 L202.87,106.81 L202.99,107.41 L203.11,108.02 L203.23,108.62 L203.35,109.22 L203.47,109.82 L203.58,110.42 L203.7,111.02 L203.82,111.63 L203.94,112.23 L204.06,112.83 L204.18,113.43 L204.3,114.03 L204.42,114.63 L204.53,115.24 L204.65,115.84 L204.77,116.44 L204.89,117.04 L205.01,117.64 L205.13,118.24 L205.25,118.85 L205.37,119.45 L205.49,120.05 L205.61,120.65 L205.73,121.25 L205.85,121.85 L205.97,122.45 L206.09,123.06 L206.21,123.66 L206.34,124.26 L206.46,124.86 L206.58,125.46 L206.7,126.06 L206.83,126.66 L206.95,127.26 L207.08,127.86 L207.2,128.46 L207.33,129.06 L207.45,129.66 L207.58,130.26 L207.7,130.86 L207.83,131.46 L207.96,132.06 L208.09,132.66 L208.22,133.26 L208.35,133.86 L208.48,134.45 L208.61,135.05 L208.74,135.65 L208.87,136.25 L209,136.85 L209.14,137.44 L209.27,138.04 L209.41,138.64 L209.54,139.23 L209.68,139.83 L209.82,140.43 L209.96,141.02 L210.1,141.62 L210.24,142.21 L210.38,142.81 L210.52,143.4 L210.66,144 L210.81,144.59 L210.95,145.18 L211.1,145.78 L211.24,146.37 L211.39,146.96 L211.54,147.56 L211.69,148.15 L211.84,148.74 L212,149.33 L212.15,149.92 L212.3,150.51 L212.46,151.1 L212.62,151.69 L212.77,152.28 L212.93,152.87 L213.09,153.46 L213.26,154.05 L213.42,154.64 L213.58,155.22 L213.75,155.81 L213.92,156.4 L214.08,156.98 L214.25,157.57 L214.42,158.16 L214.6,158.74 L214.77,159.32 L214.95,159.91 L215.12,160.49 L215.3,161.07 L215.48,161.66 L215.66,162.24 L215.84,162.82 L216.03,163.4 L216.22,163.98 L216.4,164.56 L216.59,165.14 L216.78,165.72 L216.97,166.3 L217.17,166.88 L217.36,167.45 L217.56,168.03 L217.76,168.61 L217.96,169.18 L218.16,169.76 L218.37,170.33 L218.57,170.91 L218.78,171.48 L218.99,172.05 L219.2,172.62 L219.42,173.2 L219.63,173.77 L219.85,174.34 L220.07,174.91 L220.29,175.48 L220.51,176.04 L220.74,176.61 L220.96,177.18 L221.19,177.75 L221.42,178.31 L221.66,178.88 L221.89,179.44 L222.13,180 L222.37,180.57 L222.61,181.13 L222.85,181.69 L223.1,182.25 L223.35,182.81 L223.6,183.37 L223.85,183.93 L224.1,184.49 L224.36,185.05 L224.62,185.6 L224.88,186.16 L225.14,186.71 L225.41,187.27 L225.68,187.82 L225.95,188.37 L226.22,188.93 L226.5,189.48 L226.77,190.02 L227.05,190.57 L227.34,191.12 L227.62,191.67 L227.91,192.21 L228.2,192.75 L228.49,193.3 L228.78,193.84 L229.08,194.38 L229.38,194.91 L229.68,195.45 L229.98,195.99 L230.29,196.52 L230.6,197.05 L230.91,197.58 L231.22,198.11 L231.54,198.64 L231.85,199.17 L232.18,199.69 L232.5,200.21 L232.82,200.73 L233.15,201.25 L233.48,201.77 L233.82,202.28 L234.15,202.8 L234.49,203.31 L234.83,203.82 L235.18,204.33 L235.52,204.83 L235.87,205.33 L236.22,205.84 L236.58,206.33 L236.93,206.83 L237.29,207.32 L237.65,207.82 L238.02,208.31 L238.38,208.79 L238.75,209.28 L239.13,209.76 L239.5,210.24 L239.88,210.72 L240.26,211.19 L240.64,211.67 L241.03,212.14 L241.42,212.6 L241.81,213.07 L242.2,213.53 L242.6,213.99 L243,214.44 L243.4,214.9 L243.8,215.35 L244.21,215.79 L244.62,216.24 L245.04,216.68 L245.45,217.12 L245.87,217.55 L246.29,217.99 L246.72,218.42 L247.14,218.84 L247.57,219.27 L248.01,219.68 L248.44,220.1 L248.88,220.51 L249.32,220.92 L249.77,221.33 L250.21,221.73 L250.66,222.13 L251.12,222.53 L251.57,222.92 L252.03,223.31 L252.49,223.7 L252.96,224.08 L253.43,224.45 L253.9,224.83 L254.37,225.2 L254.85,225.57 L255.33,225.93 L255.81,226.29 L256.29,226.64 L256.78,226.99 L257.27,227.34 L257.77,227.68 L258.27,228.02 L258.77,228.36 L259.27,228.69 L259.78,229.02 L260.29,229.34 L260.8,229.66 L261.32,229.97 L261.84,230.28 L262.36,230.59 L262.88,230.89 L263.41,231.18 L263.94,231.48 L264.48,231.76 L265.01,232.05 L265.56,232.33 L266.1,232.6 L266.65,232.87 L267.19,233.14 L267.75,233.4 L268.3,233.66 L268.86,233.91 L269.42,234.16 L269.98,234.41 L270.54,234.65 L271.11,234.89 L271.68,235.12 L272.25,235.35 L272.83,235.58 L273.4,235.8 L273.98,236.02 L274.56,236.23 L275.14,236.44 L275.73,236.65 L276.31,236.85 L276.9,237.05 L277.49,237.25 L278.08,237.44 L278.67,237.63 L279.27,237.82 L279.86,238 L280.46,238.18 L281.06,238.36 L281.66,238.53 L282.26,238.7 L282.86,238.87 L283.46,239.03 L284.07,239.19 L284.67,239.35 L285.28,239.5 L285.89,239.65 L286.49,239.8 L287.1,239.95 L287.71,240.09 L288.32,240.23 L288.93,240.36 L289.54,240.5 L290.16,240.63 L290.77,240.76 L291.38,240.88 L291.99,241.01 L292.61,241.13 L293.22,241.25 L293.83,241.36 L294.44,241.48 L295.06,241.59 L295.67,241.7 L296.28,241.8 L296.9,241.91 L297.51,242.01 L298.12,242.11 L298.73,242.21 L299.34,242.3 L299.95,242.4 L300.57,242.49 L301.17,242.58 L301.78,242.67 L302.39,242.75 L303,242.84 L303.61,242.92 L304.21,243 L304.82,243.08 L305.42,243.15 L306.02,243.23 L306.62,243.3 L307.22,243.37 L307.82,243.44 L308.42,243.51 L309.02,243.58 L309.67,243.65 L310.32,243.72 L310.97,243.79 L311.62,243.86 L312.27,243.92 L312.91,243.99 L313.56,244.05 L314.2,244.11 L314.83,244.17 L315.47,244.23 L316.1,244.29 L316.73,244.34 L317.36,244.4 L317.98,244.45 L318.6,244.51 L319.22,244.56 L319.39,244.57" fill="none" stroke="#ff0000" stroke-width="2.6" stroke-linecap="round" stroke-dasharray="0 4.75"/>
<path d="M320.41,56.67 L320.53,57.31 L320.66,57.95 L320.78,58.59 L320.9,59.23 L321.02,59.86 L321.14,60.5 L321.26,61.14 L321.38,61.78 L321.51,62.41 L321.63,63.05 L321.75,63.69 L321.87,64.33 L322,64.96 L322.12,65.6 L322.24,66.24 L322.37,66.87 L322.49,67.51 L322.61,68.14 L322.74,68.78 L322.86,69.42 L322.99,70.05 L323.11,70.69 L323.23,71.32 L323.36,71.96 L323.48,72.59 L323.61,73.23 L323.73,73.86 L323.86,74.5 L323.98,75.13 L324.11,75.77 L324.24,76.4 L324.36,77.04 L324.49,77.67 L324.61,78.31 L324.74,78.94 L324.86,79.57 L324.99,80.21 L325.12,80.84 L325.24,81.48 L325.37,82.11 L325.5,82.74 L325.62,83.38 L325.75,84.01 L325.87,84.64 L326,85.28 L326.13,85.91 L326.25,86.55 L326.38,87.18 L326.51,87.81 L326.63,88.45 L326.76,89.08 L326.89,89.71 L327.01,90.35 L327.14,90.98 L327.26,91.61 L327.39,92.24 L327.52,92.88 L327.64,93.51 L327.77,94.14 L327.89,94.78 L328.02,95.41 L328.15,96.04 L328.27,96.68 L328.4,97.31 L328.52,97.94 L328.65,98.58 L328.77,99.21 L328.9,99.84 L329.02,100.47 L329.15,101.11 L329.27,101.74 L329.4,102.37 L329.52,103.01 L329.65,103.64 L329.77,104.27 L329.9,104.91 L330.02,105.54 L330.14,106.17 L330.27,106.81 L330.39,107.44 L330.51,108.07 L330.64,108.71 L330.76,109.34 L330.88,109.97 L331,110.61 L331.13,111.24 L331.25,111.88 L331.37,112.51 L331.49,113.14 L331.61,113.78 L331.73,114.41 L331.86,115.05 L331.98,115.68 L332.1,116.32 L332.22,116.95 L332.34,117.58 L332.46,118.22 L332.58,118.85 L332.69,119.49 L332.81,120.12 L332.93,120.76 L333.05,121.39 L333.17,122.03 L333.28,122.66 L333.4,123.3 L333.52,123.94 L333.63,124.57 L333.75,125.21 L333.87,125.84 L333.98,126.48 L334.1,127.12 L334.22,127.75 L334.33,128.39 L334.45,129.02 L334.56,129.66 L334.68,130.3 L334.79,130.93 L334.91,131.57 L335.03,132.21 L335.14,132.84 L335.26,133.48 L335.37,134.12 L335.49,134.75 L335.61,135.39 L335.72,136.02 L335.84,136.66 L335.96,137.3 L336.08,137.93 L336.2,138.57 L336.31,139.21 L336.43,139.84 L336.55,140.48 L336.67,141.11 L336.8,141.75 L336.92,142.38 L337.04,143.02 L337.16,143.65 L337.29,144.29 L337.41,144.93 L337.53,145.56 L337.66,146.19 L337.79,146.83 L337.91,147.46 L338.04,148.1 L338.17,148.73 L338.3,149.37 L338.43,150 L338.56,150.63 L338.7,151.27 L338.83,151.9 L338.97,152.53 L339.1,153.16 L339.24,153.8 L339.38,154.43 L339.52,155.06 L339.66,155.69 L339.8,156.32 L339.94,156.95 L340.09,157.58 L340.23,158.22 L340.38,158.85 L340.53,159.48 L340.68,160.1 L340.83,160.73 L340.98,161.36 L341.14,161.99 L341.29,162.62 L341.45,163.25 L341.61,163.87 L341.77,164.5 L341.93,165.13 L342.1,165.75 L342.26,166.38 L342.43,167 L342.6,167.63 L342.77,168.25 L342.94,168.88 L343.12,169.5 L343.29,170.13 L343.47,170.75 L343.65,171.37 L343.83,171.99 L344.02,172.61 L344.21,173.23 L344.39,173.85 L344.58,174.47 L344.78,175.09 L344.97,175.71 L345.17,176.33 L345.37,176.95 L345.57,177.57 L345.77,178.18 L345.98,178.8 L346.19,179.42 L346.4,180.03 L346.61,180.64 L346.83,181.26 L347.05,181.87 L347.27,182.48 L347.49,183.1 L347.72,183.71 L347.95,184.32 L348.18,184.93 L348.41,185.54 L348.65,186.15 L348.88,186.76 L349.13,187.36 L349.37,187.97 L349.62,188.57 L349.86,189.18 L350.12,189.78 L350.37,190.38 L350.63,190.99 L350.89,191.59 L351.15,192.18 L351.42,192.78 L351.68,193.38 L351.95,193.97 L352.23,194.57 L352.5,195.16 L352.78,195.75 L353.06,196.34 L353.35,196.93 L353.63,197.51 L353.92,198.1 L354.22,198.68 L354.51,199.26 L354.81,199.84 L355.11,200.42 L355.42,201 L355.72,201.57 L356.03,202.14 L356.34,202.71 L356.66,203.28 L356.98,203.85 L357.3,204.41 L357.62,204.98 L357.95,205.54 L358.28,206.1 L358.61,206.65 L358.95,207.21 L359.29,207.76 L359.63,208.31 L359.97,208.85 L360.32,209.4 L360.67,209.94 L361.02,210.48 L361.38,211.02 L361.74,211.55 L362.1,212.08 L362.47,212.61 L362.84,213.14 L363.21,213.66 L363.58,214.18 L363.96,214.7 L364.34,215.22 L364.73,215.73 L365.11,216.24 L365.5,216.75 L365.9,217.25 L366.29,217.75 L366.69,218.25 L367.1,218.74 L367.5,219.23 L367.91,219.72 L368.33,220.21 L368.74,220.69 L369.16,221.17 L369.58,221.64 L370.01,222.11 L370.44,222.58 L370.87,223.04 L371.3,223.5 L371.74,223.96 L372.18,224.42 L372.63,224.87 L373.08,225.31 L373.53,225.75 L373.98,226.19 L374.44,226.63 L374.9,227.06 L375.37,227.49 L375.83,227.91 L376.31,228.33 L376.78,228.74 L377.26,229.16 L377.74,229.56 L378.23,229.97 L378.71,230.36 L379.21,230.76 L379.7,231.15 L380.2,231.53 L380.7,231.92 L381.21,232.29 L381.72,232.67 L382.23,233.03 L382.75,233.4 L383.27,233.76 L383.79,234.11 L384.32,234.46 L384.85,234.81 L385.38,235.15 L385.92,235.48 L386.46,235.81 L387,236.14 L387.55,236.46 L388.1,236.78 L388.66,237.09 L389.22,237.4 L389.78,237.7 L390.34,238 L390.91,238.29 L391.48,238.58 L392.05,238.86 L392.63,239.14 L393.21,239.42 L393.79,239.69 L394.38,239.96 L394.97,240.22 L395.56,240.47 L396.15,240.73 L396.75,240.98 L397.35,241.22 L397.95,241.46 L398.55,241.69 L399.16,241.93 L399.77,242.15 L400.38,242.38 L400.99,242.59 L401.6,242.81 L402.22,243.02 L402.84,243.22 L403.46,243.43 L404.08,243.62 L404.71,243.82 L405.33,244.01 L405.96,244.19 L406.59,244.38 L407.22,244.55 L407.86,244.73 L408.49,244.9 L409.13,245.07 L409.77,245.23 L410.4,245.39 L411.04,245.54 L411.69,245.69 L412.33,245.84 L412.97,245.98 L413.62,246.12 L414.26,246.26 L414.91,246.39 L415.56,246.52 L416.21,246.65 L416.86,246.77 L417.51,246.89 L418.16,247 L418.81,247.11 L419.46,247.22 L420.11,247.33 L420.76,247.43 L421.42,247.53 L422.07,247.62 L422.73,247.71 L423.38,247.8 L424.03,247.88 L424.69,247.96 L425.34,248.04 L426,248.12 L426.65,248.19 L427.31,248.26 L427.96,248.32 L428.62,248.39 L429.27,248.44 L429.92,248.5 L430.58,248.55 L431.23,248.6 L431.88,248.65 L432.53,248.7 L433.18,248.74 L433.83,248.78 L434.48,248.81 L435.13,248.84 L435.78,248.87 L436.43,248.9 L437.07,248.92 L437.72,248.95 L438.36,248.97 L439.01,248.98 L439.65,248.99 L440.29,249.01 L440.93,249.01 L441.57,249.02 L442.2,249.02 L442.84,249.02 L443.47,249.02 L444.11,249.02 L444.74,249.01 L445.37,249 L445.99,248.99 L446.56,248.98" fill="none" stroke="#ff0000" stroke-width="2.6" stroke-linecap="round" stroke-dasharray="0 4.75"/>
<path d="M452.13,24.03 L452.24,24.64 L452.36,25.26 L452.47,25.88 L452.58,26.5 L452.69,27.11 L452.8,27.73 L452.91,28.35 L453.02,28.97 L453.13,29.59 L453.23,30.2 L453.34,30.82 L453.45,31.44 L453.55,32.06 L453.66,32.68 L453.76,33.3 L453.87,33.91 L453.97,34.53 L454.08,35.15 L454.18,35.77 L454.28,36.39 L454.39,37.01 L454.49,37.63 L454.59,38.25 L454.69,38.87 L454.79,39.48 L454.89,40.1 L454.99,40.72 L455.09,41.34 L455.19,41.96 L455.29,42.58 L455.39,43.2 L455.48,43.82 L455.58,44.44 L455.68,45.06 L455.77,45.68 L455.87,46.3 L455.97,46.92 L456.06,47.54 L456.16,48.16 L456.25,48.78 L456.35,49.4 L456.44,50.02 L456.54,50.64 L456.63,51.26 L456.72,51.88 L456.82,52.5 L456.91,53.12 L457,53.74 L457.1,54.36 L457.19,54.98 L457.28,55.6 L457.37,56.22 L457.47,56.84 L457.56,57.46 L457.65,58.08 L457.74,58.7 L457.83,59.32 L457.92,59.94 L458.01,60.56 L458.1,61.18 L458.19,61.8 L458.28,62.42 L458.37,63.04 L458.47,63.66 L458.56,64.28 L458.65,64.91 L458.74,65.53 L458.82,66.15 L458.91,66.77 L459,67.39 L459.09,68.01 L459.18,68.63 L459.27,69.25 L459.36,69.87 L459.45,70.49 L459.54,71.11 L459.63,71.73 L459.72,72.35 L459.81,72.97 L459.9,73.59 L459.99,74.21 L460.08,74.83 L460.17,75.45 L460.26,76.07 L460.35,76.69 L460.44,77.31 L460.53,77.93 L460.62,78.55 L460.71,79.17 L460.8,79.79 L460.89,80.41 L460.98,81.03 L461.07,81.65 L461.16,82.27 L461.25,82.89 L461.34,83.51 L461.43,84.13 L461.53,84.75 L461.62,85.37 L461.71,85.99 L461.8,86.61 L461.89,87.23 L461.99,87.85 L462.08,88.47 L462.17,89.09 L462.26,89.71 L462.36,90.33 L462.45,90.95 L462.54,91.57 L462.64,92.19 L462.73,92.81 L462.83,93.43 L462.92,94.04 L463.02,94.66 L463.11,95.28 L463.21,95.9 L463.3,96.52 L463.4,97.14 L463.5,97.76 L463.59,98.38 L463.69,98.99 L463.79,99.61 L463.89,100.23 L463.99,100.85 L464.09,101.47 L464.18,102.09 L464.28,102.7 L464.38,103.32 L464.49,103.94 L464.59,104.56 L464.69,105.17 L464.79,105.79 L464.89,106.41 L465,107.03 L465.1,107.64 L465.2,108.26 L465.31,108.88 L465.41,109.5 L465.52,110.11 L465.62,110.73 L465.73,111.35 L465.84,111.96 L465.94,112.58 L466.05,113.2 L466.16,113.81 L466.27,114.43 L466.38,115.04 L466.49,115.66 L466.6,116.28 L466.71,116.89 L466.82,117.51 L466.93,118.12 L467.05,118.74 L467.16,119.35 L467.28,119.97 L467.39,120.58 L467.51,121.2 L467.62,121.81 L467.74,122.43 L467.86,123.04 L467.98,123.66 L468.09,124.27 L468.21,124.88 L468.33,125.5 L468.46,126.11 L468.58,126.73 L468.7,127.34 L468.82,127.95 L468.95,128.57 L469.07,129.18 L469.2,129.79 L469.32,130.4 L469.45,131.02 L469.58,131.63 L469.71,132.24 L469.84,132.85 L469.97,133.47 L470.1,134.08 L470.23,134.69 L470.36,135.3 L470.5,135.91 L470.63,136.52 L470.77,137.13 L470.9,137.75 L471.04,138.36 L471.18,138.97 L471.32,139.58 L471.46,140.19 L471.6,140.8 L471.74,141.41 L471.88,142.02 L472.03,142.63 L472.17,143.24 L472.32,143.85 L472.46,144.45 L472.61,145.06 L472.76,145.67 L472.91,146.28 L473.06,146.89 L473.21,147.5 L473.36,148.11 L473.52,148.71 L473.67,149.32 L473.83,149.93 L473.98,150.53 L474.14,151.14 L474.3,151.75 L474.46,152.36 L474.62,152.96 L474.78,153.57 L474.94,154.17 L475.11,154.78 L475.27,155.39 L475.44,155.99 L475.6,156.6 L475.77,157.2 L475.94,157.81 L476.11,158.41 L476.29,159.01 L476.46,159.62 L476.63,160.22 L476.81,160.83 L476.98,161.43 L477.16,162.03 L477.34,162.64 L477.52,163.24 L477.7,163.84 L477.89,164.44 L478.07,165.04 L478.25,165.65 L478.44,166.25 L478.63,166.85 L478.82,167.45 L479.01,168.05 L479.2,168.65 L479.4,169.25 L479.59,169.85 L479.79,170.44 L479.99,171.04 L480.18,171.64 L480.39,172.24 L480.59,172.83 L480.79,173.43 L481,174.02 L481.21,174.62 L481.42,175.21 L481.63,175.81 L481.84,176.4 L482.05,176.99 L482.27,177.58 L482.49,178.17 L482.71,178.76 L482.93,179.35 L483.15,179.94 L483.37,180.53 L483.6,181.12 L483.83,181.7 L484.06,182.29 L484.29,182.87 L484.53,183.46 L484.76,184.04 L485,184.62 L485.24,185.21 L485.48,185.79 L485.73,186.37 L485.97,186.95 L486.22,187.52 L486.47,188.1 L486.72,188.68 L486.98,189.25 L487.23,189.82 L487.49,190.4 L487.75,190.97 L488.02,191.54 L488.28,192.11 L488.55,192.68 L488.82,193.25 L489.09,193.81 L489.37,194.38 L489.64,194.94 L489.92,195.5 L490.2,196.07 L490.49,196.63 L490.77,197.19 L491.06,197.74 L491.35,198.3 L491.64,198.86 L491.94,199.41 L492.24,199.96 L492.54,200.51 L492.84,201.06 L493.15,201.61 L493.46,202.16 L493.77,202.7 L494.08,203.25 L494.4,203.79 L494.72,204.33 L495.04,204.87 L495.36,205.41 L495.69,205.94 L496.01,206.47 L496.35,207.01 L496.68,207.54 L497.02,208.06 L497.36,208.59 L497.7,209.11 L498.04,209.64 L498.39,210.15 L498.74,210.67 L499.09,211.19 L499.45,211.7 L499.81,212.21 L500.17,212.72 L500.53,213.23 L500.9,213.73 L501.27,214.23 L501.64,214.73 L502.02,215.23 L502.39,215.73 L502.78,216.22 L503.16,216.71 L503.55,217.2 L503.94,217.68 L504.33,218.16 L504.72,218.64 L505.12,219.12 L505.52,219.59 L505.93,220.07 L506.33,220.53 L506.74,221 L507.16,221.46 L507.57,221.92 L507.99,222.38 L508.41,222.83 L508.84,223.29 L509.27,223.73 L509.7,224.18 L510.13,224.62 L510.57,225.06 L511.01,225.5 L511.45,225.93 L511.9,226.36 L512.35,226.78 L512.8,227.21 L513.26,227.63 L513.72,228.04 L514.18,228.46 L514.64,228.87 L515.11,229.27 L515.58,229.68 L516.05,230.08 L516.53,230.47 L517.01,230.87 L517.49,231.26 L517.97,231.64 L518.46,232.03 L518.95,232.41 L519.44,232.78 L519.94,233.15 L520.43,233.52 L520.93,233.89 L521.44,234.25 L521.94,234.61 L522.45,234.96 L522.96,235.31 L523.48,235.66 L523.99,236.01 L524.51,236.35 L525.03,236.68 L525.56,237.02 L526.08,237.34 L526.61,237.67 L527.14,237.99 L527.68,238.31 L528.21,238.62 L528.75,238.93 L529.29,239.24 L529.83,239.54 L530.38,239.84 L530.93,240.14 L531.48,240.43 L532.03,240.71 L532.58,241 L533.14,241.28 L533.7,241.55 L534.26,241.82 L534.83,242.09 L535.39,242.35 L535.96,242.61 L536.53,242.86 L537.1,243.12 L537.68,243.36 L538.25,243.6 L538.83,243.84 L539.41,244.08 L540,244.31 L540.58,244.53 L541.17,244.75 L541.76,244.97 L542.35,245.18 L542.94,245.39 L543.53,245.6 L544.13,245.8 L544.73,245.99 L545.33,246.18 L545.93,246.37 L546.54,246.55 L547.14,246.73 L547.75,246.9 L548.36,247.07 L548.97,247.24 L549.58,247.4 L550.2,247.55 L550.81,247.7 L551.43,247.85 L552.05,247.99 L552.67,248.13 L553.3,248.26 L553.92,248.39 L554.55,248.51 L555.18,248.63 L555.81,248.75 L556.44,248.85 L557.07,248.96 L557.7,249.06 L558.34,249.15 L558.98,249.24 L559.62,249.33 L560.26,249.41 L560.9,249.49 L561.54,249.56 L562.19,249.62 L562.83,249.68 L563.48,249.74 L564.13,249.79 L564.78,249.84 L565.43,249.88 L566.08,249.92 L566.73,249.95 L567.39,249.97 L568.05,249.99 L568.7,250.01 L569.36,250.02 L570.02,250.03 L570.24,250.03" fill="none" stroke="#ff0000" stroke-width="2.6" stroke-linecap="round" stroke-dasharray="0 4.75"/>
<path d="M575.52,24.09 L575.61,24.71 L575.71,25.33 L575.8,25.95 L575.9,26.57 L576,27.19 L576.09,27.81 L576.19,28.43 L576.29,29.05 L576.38,29.67 L576.48,30.29 L576.58,30.91 L576.67,31.53 L576.77,32.14 L576.87,32.76 L576.97,33.38 L577.07,34 L577.17,34.62 L577.27,35.24 L577.37,35.85 L577.47,36.47 L577.57,37.09 L577.67,37.7 L577.77,38.32 L577.87,38.94 L577.97,39.56 L578.07,40.17 L578.17,40.79 L578.27,41.41 L578.37,42.02 L578.48,42.64 L578.58,43.25 L578.68,43.87 L578.78,44.49 L578.89,45.1 L578.99,45.72 L579.09,46.33 L579.2,46.95 L579.3,47.56 L579.41,48.18 L579.51,48.8 L579.62,49.41 L579.72,50.03 L579.82,50.64 L579.93,51.26 L580.04,51.87 L580.14,52.48 L580.25,53.1 L580.35,53.71 L580.46,54.33 L580.56,54.94 L580.67,55.56 L580.78,56.17 L580.88,56.78 L580.99,57.4 L581.1,58.01 L581.21,58.63 L581.31,59.24 L581.42,59.85 L581.53,60.47 L581.64,61.08 L581.75,61.69 L581.85,62.31 L581.96,62.92 L582.07,63.53 L582.18,64.15 L582.29,64.76 L582.4,65.37 L582.51,65.98 L582.62,66.6 L582.73,67.21 L582.83,67.82 L582.94,68.43 L583.05,69.05 L583.16,69.66 L583.27,70.27 L583.38,70.88 L583.5,71.5 L583.61,72.11 L583.72,72.72 L583.83,73.33 L583.94,73.94 L584.05,74.56 L584.16,75.17 L584.27,75.78 L584.38,76.39 L584.49,77 L584.61,77.62 L584.72,78.23 L584.83,78.84 L584.94,79.45 L585.05,80.06 L585.16,80.67 L585.28,81.28 L585.39,81.9 L585.5,82.51 L585.61,83.12 L585.72,83.73 L585.84,84.34 L585.95,84.95 L586.06,85.56 L586.17,86.18 L586.29,86.79 L586.4,87.4 L586.51,88.01 L586.63,88.62 L586.74,89.23 L586.85,89.84 L586.97,90.45 L587.08,91.06 L587.19,91.68 L587.3,92.29 L587.42,92.9 L587.53,93.51 L587.64,94.12 L587.76,94.73 L587.87,95.34 L587.98,95.95 L588.1,96.56 L588.21,97.17 L588.32,97.78 L588.44,98.4 L588.55,99.01 L588.67,99.62 L588.78,100.23 L588.89,100.84 L589.01,101.45 L589.12,102.06 L589.23,102.67 L589.35,103.28 L589.46,103.89 L589.57,104.5 L589.69,105.12 L589.8,105.73 L589.92,106.34 L590.03,106.95 L590.14,107.56 L590.26,108.17 L590.37,108.78 L590.48,109.39 L590.6,110 L590.71,110.62 L590.82,111.23 L590.94,111.84 L591.05,112.45 L591.16,113.06 L591.28,113.67 L591.39,114.28 L591.5,114.89 L591.62,115.51 L591.73,116.12 L591.84,116.73 L591.96,117.34 L592.07,117.95 L592.18,118.56 L592.3,119.17 L592.41,119.79 L592.52,120.4 L592.64,121.01 L592.75,121.62 L592.86,122.23 L592.97,122.84 L593.09,123.46 L593.2,124.07 L593.31,124.68 L593.42,125.29 L593.54,125.9 L593.65,126.52 L593.76,127.13 L593.87,127.74 L593.98,128.35 L594.1,128.97 L594.21,129.58 L594.32,130.19 L594.43,130.8 L594.54,131.42 L594.65,132.03 L594.77,132.64 L594.88,133.25 L594.99,133.87 L595.1,134.48 L595.21,135.09 L595.32,135.71 L595.43,136.32 L595.54,136.93 L595.65,137.55 L595.76,138.16 L595.87,138.77 L595.98,139.39 L596.09,140 L596.2,140.61 L596.31,141.23 L596.42,141.84 L596.53,142.46 L596.64,143.07 L596.75,143.68 L596.86,144.3 L596.97,144.91 L597.07,145.53 L597.18,146.14 L597.29,146.76 L597.4,147.37 L597.51,147.99 L597.62,148.6 L597.72,149.22 L597.83,149.83 L597.94,150.45 L598.05,151.06 L598.15,151.68 L598.26,152.29 L598.37,152.91 L598.47,153.52 L598.58,154.14 L598.69,154.76 L598.79,155.37 L598.9,155.99 L599,156.6 L599.11,157.22 L599.21,157.84 L599.32,158.45 L599.42,159.07 L599.53,159.69 L599.63,160.31 L599.74,160.92 L599.84,161.54 L599.94,162.16 L600.05,162.77 L600.15,163.39 L600.25,164.01 L600.36,164.63 L600.46,165.25 L600.57,165.86 L600.67,166.48 L600.77,167.1 L600.88,167.72 L600.98,168.33 L601.09,168.95 L601.19,169.57 L601.3,170.19 L601.4,170.8 L601.51,171.42 L601.61,172.04 L601.72,172.66 L601.82,173.27 L601.93,173.89 L602.04,174.51 L602.14,175.13 L602.25,175.74 L602.36,176.36 L602.47,176.98 L602.58,177.59 L602.69,178.21 L602.8,178.82 L602.91,179.44 L603.03,180.06 L603.14,180.67 L603.25,181.29 L603.37,181.9 L603.48,182.52 L603.6,183.13 L603.72,183.74 L603.83,184.36 L603.95,184.97 L604.07,185.58 L604.19,186.2 L604.31,186.81 L604.44,187.42 L604.56,188.03 L604.69,188.65 L604.81,189.26 L604.94,189.87 L605.07,190.48 L605.2,191.09 L605.33,191.7 L605.46,192.31 L605.59,192.91 L605.73,193.52 L605.86,194.13 L606,194.74 L606.14,195.34 L606.28,195.95 L606.42,196.56 L606.56,197.16 L606.71,197.77 L606.85,198.37 L607,198.97 L607.15,199.58 L607.3,200.18 L607.45,200.78 L607.61,201.38 L607.76,201.98 L607.92,202.58 L608.08,203.18 L608.24,203.78 L608.4,204.38 L608.57,204.98 L608.73,205.57 L608.9,206.17 L609.07,206.76 L609.24,207.36 L609.42,207.95 L609.6,208.55 L609.77,209.14 L609.95,209.73 L610.14,210.32 L610.32,210.91 L610.51,211.5 L610.7,212.09 L610.89,212.68 L611.08,213.27 L611.28,213.85 L611.47,214.44 L611.67,215.02 L611.88,215.61 L612.08,216.19 L612.29,216.77 L612.5,217.35 L612.71,217.93 L612.93,218.51 L613.14,219.09 L613.36,219.67 L613.59,220.25 L613.81,220.82 L614.04,221.4 L614.27,221.97 L614.5,222.54 L614.74,223.11 L614.98,223.68 L615.22,224.25 L615.46,224.82 L615.71,225.39 L615.96,225.96 L616.21,226.52 L616.47,227.09 L616.72,227.65 L616.98,228.21 L617.25,228.78 L617.52,229.34 L617.79,229.89 L618.06,230.45 L618.34,231.01 L618.62,231.56 L618.91,232.11 L619.2,232.65 L619.5,233.2 L619.8,233.73 L620.1,234.27 L620.42,234.79 L620.74,235.32 L621.07,235.83 L621.4,236.34 L621.74,236.84 L622.09,237.34 L622.45,237.82 L622.82,238.3 L623.19,238.77 L623.62,239.28 L624.06,239.78 L624.51,240.26 L624.98,240.73 L625.45,241.19 L625.94,241.63 L626.45,242.06 L626.97,242.47 L627.5,242.87 L628,243.21 L628.51,243.54 L629.03,243.85 L629.56,244.15 L630.11,244.43 L630.66,244.7 L631.23,244.96 L631.81,245.2 L632.39,245.44 L632.99,245.66 L633.59,245.88 L634.2,246.08 L634.82,246.27 L635.44,246.46 L636.07,246.64 L636.71,246.81 L637.34,246.97 L637.98,247.13 L638.62,247.29 L639.27,247.43 L639.91,247.58 L640.56,247.72 L641.21,247.86 L641.85,247.99 L642.49,248.12 L643.13,248.25 L643.77,248.38 L644.41,248.51 L645.04,248.64 L645.67,248.77 L646.3,248.9 L646.92,249.02 L647.55,249.15 L648.17,249.27 L648.79,249.39 L649.41,249.51 L650.03,249.63 L650.64,249.75 L651.26,249.87 L651.87,249.99 L652.48,250.1 L653.09,250.22 L653.7,250.33 L654.31,250.44 L654.91,250.55 L655.52,250.66 L656.13,250.77 L656.73,250.88 L657.34,250.99 L657.94,251.1 L658.54,251.2 L659.15,251.3 L659.75,251.41 L660.35,251.51 L660.96,251.61 L661.56,251.71 L662.16,251.81 L662.77,251.91 L663.37,252 L663.98,252.1 L664.58,252.19 L665.19,252.28 L665.79,252.37 L666.4,252.47 L667.01,252.55 L667.62,252.64 L668.23,252.73 L668.84,252.82 L669.46,252.9 L670.07,252.98 L670.69,253.07 L671.31,253.15 L671.93,253.23 L672.55,253.31 L673.17,253.38 L673.8,253.46 L674.42,253.54 L675.05,253.61 L675.69,253.68 L675.9,253.71" fill="none" stroke="#ff0000" stroke-width="2.6" stroke-linecap="round" stroke-dasharray="0 4.75"/>
<line x1="189.9" y1="24.9" x2="193.2" y2="289.5" stroke="#2bbf72" stroke-width="1.15" stroke-dasharray="6.2 2.4 1 2.4"/>
<line x1="315.8" y1="24.9" x2="319.2" y2="290" stroke="#2bbf72" stroke-width="1.15" stroke-dasharray="6.2 2.4 1 2.4"/>
<line x1="450.5" y1="24.9" x2="454.3" y2="289.5" stroke="#2bbf72" stroke-width="1.15" stroke-dasharray="6.2 2.4 1 2.4"/>
<line x1="573.7" y1="24.9" x2="577.5" y2="290" stroke="#2bbf72" stroke-width="1.15" stroke-dasharray="6.2 2.4 1 2.4"/>
<line x1="76.5" y1="383.9" x2="689.5" y2="383.9" stroke="#868686" stroke-width="2"/>
<line x1="689.5" y1="383.9" x2="689.5" y2="628.4" stroke="#868686" stroke-width="1.6"/>
<line x1="72" y1="628.4" x2="76.5" y2="628.4" stroke="#404040" stroke-width="1"/>
<text x="63.4" y="633" font-size="14.9" text-anchor="end">0.000</text>
<line x1="72" y1="579.5" x2="76.5" y2="579.5" stroke="#404040" stroke-width="1"/>
<text x="63.4" y="584.1" font-size="14.9" text-anchor="end">0.050</text>
<line x1="72" y1="530.6" x2="76.5" y2="530.6" stroke="#404040" stroke-width="1"/>
<text x="63.4" y="535.2" font-size="14.9" text-anchor="end">0.100</text>
<line x1="72" y1="481.7" x2="76.5" y2="481.7" stroke="#404040" stroke-width="1"/>
<text x="63.4" y="486.3" font-size="14.9" text-anchor="end">0.150</text>
<line x1="72" y1="432.8" x2="76.5" y2="432.8" stroke="#404040" stroke-width="1"/>
<text x="63.4" y="437.4" font-size="14.9" text-anchor="end">0.200</text>
<line x1="72" y1="383.9" x2="76.5" y2="383.9" stroke="#404040" stroke-width="1"/>
<text x="63.4" y="388.5" font-size="14.9" text-anchor="end">0.250</text>
<line x1="76.5" y1="628.4" x2="76.5" y2="632.9" stroke="#404040" stroke-width="1"/>
<text x="76.5" y="651.6" font-size="14.9" text-anchor="middle">0</text>
<line x1="137.8" y1="628.4" x2="137.8" y2="632.9" stroke="#404040" stroke-width="1"/>
<text x="137.8" y="651.6" font-size="14.9" text-anchor="middle">5</text>
<line x1="199.1" y1="628.4" x2="199.1" y2="632.9" stroke="#404040" stroke-width="1"/>
<text x="199.1" y="651.6" font-size="14.9" text-anchor="middle">10</text>
<line x1="260.4" y1="628.4" x2="260.4" y2="632.9" stroke="#404040" stroke-width="1"/>
<text x="260.4" y="651.6" font-size="14.9" text-anchor="middle">15</text>
<line x1="321.7" y1="628.4" x2="321.7" y2="632.9" stroke="#404040" stroke-width="1"/>
<text x="321.7" y="651.6" font-size="14.9" text-anchor="middle">20</text>
<line x1="383" y1="628.4" x2="383" y2="632.9" stroke="#404040" stroke-width="1"/>
<text x="383" y="651.6" font-size="14.9" text-anchor="middle">25</text>
<line x1="444.3" y1="628.4" x2="444.3" y2="632.9" stroke="#404040" stroke-width="1"/>
<text x="444.3" y="651.6" font-size="14.9" text-anchor="middle">30</text>
<line x1="505.6" y1="628.4" x2="505.6" y2="632.9" stroke="#404040" stroke-width="1"/>
<text x="505.6" y="651.6" font-size="14.9" text-anchor="middle">35</text>
<line x1="566.9" y1="628.4" x2="566.9" y2="632.9" stroke="#404040" stroke-width="1"/>
<text x="566.9" y="651.6" font-size="14.9" text-anchor="middle">40</text>
<line x1="628.2" y1="628.4" x2="628.2" y2="632.9" stroke="#404040" stroke-width="1"/>
<text x="628.2" y="651.6" font-size="14.9" text-anchor="middle">45</text>
<line x1="689.5" y1="628.4" x2="689.5" y2="632.9" stroke="#404040" stroke-width="1"/>
<text x="689.5" y="651.6" font-size="14.9" text-anchor="middle">50</text>
<line x1="76.5" y1="382.9" x2="76.5" y2="629.4" stroke="#404040" stroke-width="1.7"/>
<line x1="75.5" y1="628.4" x2="689.5" y2="628.4" stroke="#404040" stroke-width="1.7"/>
<path d="M76.7,530.47 L77.2,531.48 L77.7,532.5 L78.2,533.54 L78.7,534.59 L79.2,535.66 L79.7,536.74 L80.2,537.83 L80.7,538.93 L81.2,540.04 L81.7,541.16 L82.2,542.29 L82.7,543.42 L83.2,544.56 L83.7,545.7 L84.2,546.85 L84.7,548 L85.2,549.15 L85.7,550.3 L86.2,551.45 L86.7,552.6 L87.2,553.75 L87.7,554.9 L88.2,556.04 L88.7,557.18 L89.2,558.32 L89.7,559.45 L90.2,560.58 L90.7,561.7 L91.2,562.81 L91.7,563.91 L92.2,565 L92.7,566.08 L93.2,567.15 L93.7,568.2 L94.2,569.24 L94.7,570.27 L95.2,571.28 L95.7,572.28 L96.2,573.26 L96.7,574.22 L97.2,575.16 L97.7,576.09 L98.2,577 L98.7,577.89 L99.2,578.76 L99.7,579.61 L100.2,580.45 L100.7,581.27 L101.2,582.06 L101.7,582.85 L102.2,583.61 L102.7,584.36 L103.2,585.09 L103.7,585.81 L104.2,586.52 L104.7,587.21 L105.2,587.88 L105.7,588.54 L106.2,589.19 L106.7,589.83 L107.2,590.45 L107.7,591.06 L108.2,591.66 L108.7,592.25 L109.2,592.83 L109.7,593.39 L110.2,593.95 L110.7,594.49 L111.2,595.03 L111.7,595.55 L112.2,596.07 L112.7,596.58 L113.2,597.07 L113.95,597.8 L114.7,598.51 L115.45,599.2 L116.2,599.88 L116.95,600.53 L117.7,601.17 L118.45,601.8 L119.2,602.4 L119.95,603 L120.7,603.58 L121.45,604.14 L122.2,604.69 L122.95,605.23 L123.7,605.76 L124.45,606.27 L125.2,606.77 L125.95,607.26 L126.7,607.74 L127.45,608.21 L128.2,608.67 L128.95,609.12 L129.7,609.55 L130.45,609.98 L131.2,610.4 L131.95,610.81 L132.7,611.21 L133.45,611.61 L134.2,611.99 L134.95,612.37 L135.7,612.74 L136.45,613.1 L137.2,613.45 L137.95,613.8 L138.7,614.14 L139.45,614.47 L140.2,614.8 L140.95,615.12 L141.7,615.43 L142.45,615.74 L143.2,616.04 L143.95,616.33 L144.7,616.62 L145.45,616.9 L146.2,617.18 L146.95,617.45 L147.7,617.72 L148.45,617.98 L149.2,618.24 L149.95,618.49 L150.7,618.74 L151.45,618.98 L152.2,619.22 L152.95,619.45 L153.7,619.68 L154.45,619.9 L155.2,620.11 L155.95,620.32 L156.7,620.53 L157.45,620.73 L158.2,620.93 L158.95,621.12 L159.7,621.3 L160.45,621.48 L161.2,621.66 L161.95,621.83 L162.7,622 L163.45,622.16 L164.2,622.32 L164.95,622.47 L165.7,622.62 L166.45,622.76 L167.2,622.9 L167.95,623.04 L168.7,623.17 L169.45,623.3 L170.2,623.42 L170.95,623.54 L171.7,623.66 L172.45,623.77 L173.2,623.88 L173.95,623.98 L174.7,624.09 L175.45,624.18 L176.2,624.28 L176.95,624.37 L177.7,624.46 L178.45,624.55 L179.2,624.63 L179.95,624.71 L180.7,624.78 L181.45,624.86 L182.2,624.93 L182.95,625 L183.7,625.06 L184.45,625.13 L185.2,625.19 L185.95,625.25 L186.7,625.3 L187.45,625.36 L188.2,625.41 L188.95,625.46 L189.7,625.51 L190.45,625.55 L191.2,625.59 L191.95,625.64 L192.7,625.68 L193.45,625.71 L194.2,625.75 L194.95,625.78 L195.7,625.81 L196.45,625.84 L197.2,625.87 L197.95,625.9 L198.7,625.92 L198.9,625.93" fill="none" stroke="#000094" stroke-width="2" stroke-linejoin="round"/>
<path d="M198.8,466.98 L199.05,468.12 L199.3,469.23 L199.55,470.34 L199.8,471.43 L200.05,472.52 L200.3,473.59 L200.55,474.65 L200.8,475.71 L201.05,476.75 L201.3,477.79 L201.55,478.82 L201.8,479.84 L202.05,480.86 L202.3,481.87 L202.55,482.87 L202.8,483.87 L203.05,484.87 L203.3,485.86 L203.55,486.85 L203.8,487.83 L204.05,488.81 L204.3,489.8 L204.55,490.77 L204.8,491.75 L205.05,492.73 L205.3,493.7 L205.55,494.68 L205.8,495.65 L206.05,496.63 L206.3,497.6 L206.55,498.58 L206.8,499.56 L207.05,500.53 L207.3,501.51 L207.55,502.5 L207.8,503.48 L208.05,504.47 L208.3,505.46 L208.55,506.45 L208.8,507.45 L209.05,508.45 L209.3,509.45 L209.55,510.46 L209.8,511.47 L210.05,512.48 L210.3,513.5 L210.55,514.52 L210.8,515.55 L211.05,516.57 L211.3,517.6 L211.55,518.63 L211.8,519.66 L212.05,520.7 L212.3,521.73 L212.55,522.76 L212.8,523.8 L213.05,524.83 L213.3,525.86 L213.55,526.88 L213.8,527.91 L214.05,528.93 L214.3,529.95 L214.55,530.97 L214.8,531.98 L215.05,532.99 L215.3,534 L215.55,535 L215.8,536 L216.05,536.99 L216.3,537.97 L216.55,538.95 L216.8,539.93 L217.05,540.9 L217.3,541.86 L217.55,542.81 L217.8,543.76 L218.05,544.7 L218.3,545.63 L218.55,546.56 L218.8,547.47 L219.05,548.38 L219.3,549.27 L219.55,550.15 L219.8,551.02 L220.05,551.88 L220.3,552.72 L220.55,553.55 L220.8,554.37 L221.05,555.17 L221.3,555.96 L221.55,556.73 L221.8,557.49 L222.05,558.24 L222.3,558.97 L222.55,559.68 L222.8,560.38 L223.05,561.07 L223.3,561.75 L223.55,562.42 L223.8,563.07 L224.3,564.35 L224.8,565.58 L225.3,566.78 L225.8,567.93 L226.3,569.06 L226.8,570.15 L227.3,571.22 L227.8,572.26 L228.3,573.27 L228.8,574.26 L229.3,575.22 L229.8,576.17 L230.3,577.09 L230.8,578 L231.3,578.88 L231.8,579.74 L232.3,580.57 L232.8,581.38 L233.3,582.17 L233.8,582.94 L234.3,583.69 L234.8,584.43 L235.3,585.15 L235.8,585.85 L236.3,586.55 L236.8,587.23 L237.3,587.91 L237.8,588.58 L238.3,589.24 L238.8,589.9 L239.3,590.55 L239.8,591.21 L240.3,591.86 L240.8,592.51 L241.3,593.15 L241.8,593.8 L242.3,594.45 L242.8,595.09 L243.3,595.72 L243.8,596.35 L244.3,596.98 L244.8,597.6 L245.3,598.2 L245.8,598.8 L246.3,599.4 L246.8,599.98 L247.3,600.55 L247.8,601.11 L248.3,601.66 L248.8,602.19 L249.3,602.72 L249.8,603.23 L250.3,603.73 L251.05,604.46 L251.8,605.16 L252.55,605.83 L253.3,606.47 L254.05,607.08 L254.8,607.67 L255.55,608.23 L256.3,608.77 L257.05,609.29 L257.8,609.78 L258.55,610.26 L259.3,610.73 L260.05,611.18 L260.8,611.61 L261.55,612.03 L262.3,612.44 L263.05,612.84 L263.8,613.23 L264.55,613.61 L265.3,613.97 L266.05,614.34 L266.8,614.69 L267.55,615.03 L268.3,615.37 L269.05,615.7 L269.8,616.02 L270.55,616.33 L271.3,616.64 L272.05,616.94 L272.8,617.23 L273.55,617.51 L274.3,617.79 L275.05,618.06 L275.8,618.33 L276.55,618.58 L277.3,618.83 L278.05,619.08 L278.8,619.32 L279.55,619.55 L280.3,619.78 L281.05,620 L281.8,620.21 L282.55,620.42 L283.3,620.62 L284.05,620.82 L284.8,621.01 L285.55,621.2 L286.3,621.38 L287.05,621.56 L287.8,621.73 L288.55,621.9 L289.3,622.07 L290.05,622.23 L290.8,622.38 L291.55,622.53 L292.3,622.68 L293.05,622.82 L293.8,622.96 L294.55,623.09 L295.3,623.22 L296.05,623.35 L296.8,623.47 L297.55,623.59 L298.3,623.71 L299.05,623.82 L299.8,623.93 L300.55,624.04 L301.3,624.14 L302.05,624.24 L302.8,624.34 L303.55,624.44 L304.3,624.53 L305.05,624.62 L305.8,624.7 L306.55,624.79 L307.3,624.87 L308.05,624.95 L308.8,625.03 L309.55,625.1 L310.3,625.17 L311.05,625.24 L311.8,625.31 L312.55,625.38 L313.3,625.44 L314.05,625.51 L314.8,625.57 L315.55,625.63 L316.3,625.68 L317.05,625.74 L317.8,625.79 L318.55,625.84 L319.3,625.89 L320.05,625.94 L320.8,625.99 L321.2,626.01" fill="none" stroke="#000094" stroke-width="2" stroke-linejoin="round"/>
<path d="M321.5,438.67 L321.75,440.09 L322,441.49 L322.25,442.89 L322.5,444.29 L322.75,445.67 L323,447.05 L323.25,448.42 L323.5,449.79 L323.75,451.15 L324,452.51 L324.25,453.86 L324.5,455.21 L324.75,456.56 L325,457.9 L325.25,459.24 L325.5,460.58 L325.75,461.92 L326,463.25 L326.25,464.58 L326.5,465.92 L326.75,467.25 L327,468.57 L327.25,469.9 L327.5,471.23 L327.75,472.56 L328,473.89 L328.25,475.22 L328.5,476.55 L328.75,477.88 L329,479.21 L329.25,480.54 L329.5,481.87 L329.75,483.2 L330,484.54 L330.25,485.88 L330.5,487.21 L330.75,488.55 L331,489.89 L331.25,491.24 L331.5,492.58 L331.75,493.93 L332,495.28 L332.25,496.63 L332.5,497.98 L332.75,499.33 L333,500.69 L333.25,502.04 L333.5,503.39 L333.75,504.75 L334,506.09 L334.25,507.44 L334.5,508.78 L334.75,510.11 L335,511.44 L335.25,512.76 L335.5,514.08 L335.75,515.38 L336,516.68 L336.25,517.96 L336.5,519.24 L336.75,520.5 L337,521.76 L337.25,523 L337.5,524.22 L337.75,525.44 L338,526.64 L338.25,527.83 L338.5,529 L338.75,530.16 L339,531.3 L339.25,532.43 L339.5,533.54 L339.75,534.63 L340,535.71 L340.25,536.77 L340.5,537.82 L340.75,538.85 L341,539.86 L341.25,540.85 L341.5,541.83 L341.75,542.79 L342,543.74 L342.25,544.67 L342.5,545.59 L342.75,546.49 L343,547.38 L343.25,548.26 L343.5,549.12 L343.75,549.97 L344,550.8 L344.25,551.63 L344.5,552.44 L344.75,553.24 L345,554.02 L345.25,554.8 L345.5,555.56 L345.75,556.31 L346,557.05 L346.25,557.79 L346.5,558.51 L346.75,559.22 L347,559.92 L347.25,560.61 L347.5,561.29 L347.75,561.96 L348,562.62 L348.5,563.92 L349,565.18 L349.5,566.41 L350,567.61 L350.5,568.78 L351,569.92 L351.5,571.03 L352,572.11 L352.5,573.17 L353,574.2 L353.5,575.21 L354,576.2 L354.5,577.16 L355,578.1 L355.5,579.03 L356,579.93 L356.5,580.81 L357,581.68 L357.5,582.53 L358,583.36 L358.5,584.18 L359,584.99 L359.5,585.78 L360,586.56 L360.5,587.33 L361,588.09 L361.5,588.85 L362,589.59 L362.5,590.33 L363,591.06 L363.5,591.78 L364,592.5 L364.5,593.21 L365,593.92 L365.5,594.62 L366,595.32 L366.5,596 L367,596.68 L367.5,597.35 L368,598.01 L368.5,598.65 L369,599.29 L369.5,599.91 L370,600.52 L370.5,601.11 L371,601.69 L371.5,602.26 L372,602.81 L372.5,603.35 L373,603.88 L373.5,604.39 L374,604.9 L374.5,605.39 L375.25,606.1 L376,606.79 L376.75,607.45 L377.5,608.1 L378.25,608.71 L379,609.31 L379.75,609.89 L380.5,610.45 L381.25,610.99 L382,611.51 L382.75,612.01 L383.5,612.5 L384.25,612.97 L385,613.42 L385.75,613.86 L386.5,614.28 L387.25,614.7 L388,615.09 L388.75,615.48 L389.5,615.85 L390.25,616.21 L391,616.56 L391.75,616.9 L392.5,617.23 L393.25,617.55 L394,617.86 L394.75,618.16 L395.5,618.46 L396.25,618.74 L397,619.02 L397.75,619.29 L398.5,619.56 L399.25,619.82 L400,620.07 L400.75,620.32 L401.5,620.56 L402.25,620.79 L403,621.02 L403.75,621.25 L404.5,621.47 L405.25,621.68 L406,621.88 L406.75,622.09 L407.5,622.28 L408.25,622.47 L409,622.66 L409.75,622.84 L410.5,623.01 L411.25,623.18 L412,623.34 L412.75,623.5 L413.5,623.65 L414.25,623.8 L415,623.94 L415.75,624.08 L416.5,624.21 L417.25,624.34 L418,624.47 L418.75,624.59 L419.5,624.7 L420.25,624.81 L421,624.92 L421.75,625.03 L422.5,625.12 L423.25,625.22 L424,625.31 L424.75,625.4 L425.5,625.49 L426.25,625.57 L427,625.65 L427.75,625.73 L428.5,625.8 L429.25,625.87 L430,625.94 L430.75,626 L431.5,626.06 L432.25,626.12 L433,626.18 L433.75,626.23 L434.5,626.29 L435.25,626.33 L436,626.38 L436.75,626.43 L437.5,626.47 L438.25,626.51 L439,626.55 L439.75,626.59 L440.5,626.63 L441.25,626.66 L442,626.69 L442.75,626.72 L443.5,626.75 L444.1,626.77" fill="none" stroke="#000094" stroke-width="2" stroke-linejoin="round"/>
<path d="M444.3,395.55 L444.55,397.03 L444.8,398.51 L445.05,400.01 L445.3,401.52 L445.55,403.04 L445.8,404.57 L446.05,406.11 L446.3,407.66 L446.55,409.22 L446.8,410.78 L447.05,412.35 L447.3,413.93 L447.55,415.51 L447.8,417.1 L448.05,418.69 L448.3,420.29 L448.55,421.88 L448.8,423.48 L449.05,425.09 L449.3,426.69 L449.55,428.29 L449.8,429.9 L450.05,431.51 L450.3,433.11 L450.55,434.71 L450.8,436.32 L451.05,437.92 L451.3,439.51 L451.55,441.11 L451.8,442.7 L452.05,444.29 L452.3,445.87 L452.55,447.45 L452.8,449.02 L453.05,450.59 L453.3,452.16 L453.55,453.71 L453.8,455.27 L454.05,456.81 L454.3,458.35 L454.55,459.88 L454.8,461.4 L455.05,462.92 L455.3,464.42 L455.55,465.92 L455.8,467.41 L456.05,468.89 L456.3,470.36 L456.55,471.83 L456.8,473.28 L457.05,474.72 L457.3,476.16 L457.55,477.58 L457.8,478.99 L458.05,480.39 L458.3,481.79 L458.55,483.17 L458.8,484.54 L459.05,485.9 L459.3,487.24 L459.55,488.58 L459.8,489.9 L460.05,491.22 L460.3,492.52 L460.55,493.81 L460.8,495.08 L461.05,496.35 L461.3,497.6 L461.55,498.84 L461.8,500.07 L462.05,501.29 L462.3,502.49 L462.55,503.69 L462.8,504.86 L463.05,506.03 L463.3,507.19 L463.55,508.33 L463.8,509.46 L464.05,510.57 L464.3,511.68 L464.55,512.77 L464.8,513.85 L465.05,514.91 L465.3,515.97 L465.55,517.01 L465.8,518.04 L466.05,519.05 L466.3,520.06 L466.55,521.05 L466.8,522.03 L467.05,522.99 L467.3,523.95 L467.55,524.89 L467.8,525.82 L468.05,526.73 L468.3,527.64 L468.55,528.54 L468.8,529.42 L469.05,530.3 L469.3,531.16 L469.55,532.02 L469.8,532.86 L470.05,533.7 L470.3,534.53 L470.55,535.35 L470.8,536.16 L471.05,536.96 L471.3,537.76 L471.55,538.55 L471.8,539.33 L472.05,540.1 L472.3,540.87 L472.55,541.63 L472.8,542.38 L473.05,543.13 L473.3,543.87 L473.55,544.61 L473.8,545.34 L474.05,546.06 L474.3,546.78 L474.55,547.49 L474.8,548.2 L475.05,548.91 L475.3,549.61 L475.55,550.3 L475.8,550.99 L476.05,551.68 L476.3,552.36 L476.55,553.04 L476.8,553.71 L477.05,554.38 L477.3,555.05 L477.55,555.71 L477.8,556.37 L478.05,557.03 L478.55,558.33 L479.05,559.62 L479.55,560.9 L480.05,562.17 L480.55,563.43 L481.05,564.68 L481.55,565.92 L482.05,567.16 L482.55,568.38 L483.05,569.6 L483.55,570.81 L484.05,572.01 L484.55,573.2 L485.05,574.38 L485.55,575.55 L486.05,576.71 L486.55,577.84 L487.05,578.96 L487.55,580.06 L488.05,581.13 L488.55,582.18 L489.05,583.2 L489.55,584.19 L490.05,585.16 L490.55,586.1 L491.05,587 L491.55,587.88 L492.05,588.73 L492.55,589.55 L493.05,590.34 L493.55,591.11 L494.05,591.86 L494.55,592.58 L495.05,593.28 L495.55,593.96 L496.05,594.62 L496.55,595.26 L497.05,595.89 L497.55,596.5 L498.05,597.09 L498.55,597.66 L499.05,598.22 L499.55,598.77 L500.05,599.3 L500.55,599.82 L501.05,600.33 L501.55,600.83 L502.3,601.56 L503.05,602.26 L503.8,602.94 L504.55,603.6 L505.3,604.24 L506.05,604.86 L506.8,605.47 L507.55,606.06 L508.3,606.64 L509.05,607.2 L509.8,607.76 L510.55,608.3 L511.3,608.82 L512.05,609.34 L512.8,609.84 L513.55,610.33 L514.3,610.81 L515.05,611.28 L515.8,611.74 L516.55,612.19 L517.3,612.62 L518.05,613.05 L518.8,613.46 L519.55,613.87 L520.3,614.26 L521.05,614.65 L521.8,615.02 L522.55,615.39 L523.3,615.74 L524.05,616.09 L524.8,616.43 L525.55,616.75 L526.3,617.07 L527.05,617.38 L527.8,617.69 L528.55,617.98 L529.3,618.27 L530.05,618.54 L530.8,618.82 L531.55,619.08 L532.3,619.33 L533.05,619.58 L533.8,619.82 L534.55,620.06 L535.3,620.28 L536.05,620.5 L536.8,620.72 L537.55,620.93 L538.3,621.13 L539.05,621.32 L539.8,621.52 L540.55,621.7 L541.3,621.88 L542.05,622.05 L542.8,622.22 L543.55,622.38 L544.3,622.54 L545.05,622.7 L545.8,622.85 L546.55,622.99 L547.3,623.13 L548.05,623.27 L548.8,623.4 L549.55,623.52 L550.3,623.65 L551.05,623.77 L551.8,623.88 L552.55,624 L553.3,624.1 L554.05,624.21 L554.8,624.31 L555.55,624.41 L556.3,624.51 L557.05,624.6 L557.8,624.69 L558.55,624.78 L559.3,624.86 L560.05,624.94 L560.8,625.02 L561.55,625.1 L562.3,625.17 L563.05,625.24 L563.8,625.31 L564.55,625.38 L565.3,625.44 L566.05,625.5 L566.8,625.57 L567.1,625.59" fill="none" stroke="#000094" stroke-width="2" stroke-linejoin="round"/>
<path d="M566.2,410.83 L566.45,412.11 L566.7,413.39 L566.95,414.67 L567.2,415.95 L567.45,417.23 L567.7,418.52 L567.95,419.8 L568.2,421.09 L568.45,422.38 L568.7,423.68 L568.95,424.97 L569.2,426.27 L569.45,427.56 L569.7,428.86 L569.95,430.17 L570.2,431.47 L570.45,432.78 L570.7,434.08 L570.95,435.39 L571.2,436.71 L571.45,438.02 L571.7,439.34 L571.95,440.65 L572.2,441.97 L572.45,443.29 L572.7,444.62 L572.95,445.94 L573.2,447.27 L573.45,448.6 L573.7,449.93 L573.95,451.26 L574.2,452.6 L574.45,453.93 L574.7,455.27 L574.95,456.61 L575.2,457.95 L575.45,459.29 L575.7,460.63 L575.95,461.98 L576.2,463.32 L576.45,464.67 L576.7,466.02 L576.95,467.36 L577.2,468.71 L577.45,470.06 L577.7,471.41 L577.95,472.77 L578.2,474.12 L578.45,475.47 L578.7,476.82 L578.95,478.18 L579.2,479.53 L579.45,480.89 L579.7,482.24 L579.95,483.59 L580.2,484.95 L580.45,486.3 L580.7,487.65 L580.95,489 L581.2,490.35 L581.45,491.7 L581.7,493.05 L581.95,494.4 L582.2,495.75 L582.45,497.09 L582.7,498.44 L582.95,499.78 L583.2,501.12 L583.45,502.46 L583.7,503.79 L583.95,505.13 L584.2,506.46 L584.45,507.79 L584.7,509.12 L584.95,510.44 L585.2,511.76 L585.45,513.08 L585.7,514.4 L585.95,515.71 L586.2,517.02 L586.45,518.33 L586.7,519.63 L586.95,520.93 L587.2,522.22 L587.45,523.51 L587.7,524.79 L587.95,526.08 L588.2,527.35 L588.45,528.62 L588.7,529.89 L588.95,531.15 L589.2,532.41 L589.45,533.66 L589.7,534.91 L589.95,536.15 L590.2,537.38 L590.45,538.61 L590.7,539.83 L590.95,541.05 L591.2,542.26 L591.45,543.46 L591.7,544.66 L591.95,545.84 L592.2,547.03 L592.45,548.2 L592.7,549.37 L592.95,550.53 L593.2,551.68 L593.45,552.82 L593.7,553.96 L593.95,555.08 L594.2,556.2 L594.45,557.31 L594.7,558.41 L594.95,559.5 L595.2,560.59 L595.45,561.66 L595.7,562.73 L595.95,563.78 L596.2,564.83 L596.45,565.87 L596.7,566.9 L596.95,567.92 L597.2,568.93 L597.45,569.93 L597.7,570.92 L597.95,571.9 L598.2,572.87 L598.45,573.83 L598.7,574.78 L598.95,575.73 L599.2,576.66 L599.45,577.59 L599.7,578.51 L599.95,579.42 L600.2,580.32 L600.45,581.22 L600.7,582.1 L600.95,582.98 L601.2,583.86 L601.45,584.72 L601.7,585.58 L601.95,586.43 L602.2,587.27 L602.45,588.1 L602.7,588.93 L602.95,589.75 L603.2,590.56 L603.45,591.37 L603.7,592.16 L603.95,592.94 L604.2,593.71 L604.45,594.47 L604.7,595.22 L604.95,595.95 L605.2,596.67 L605.45,597.38 L605.7,598.07 L605.95,598.75 L606.2,599.41 L606.7,600.7 L607.2,601.92 L607.7,603.09 L608.2,604.19 L608.7,605.23 L609.2,606.22 L609.7,607.14 L610.2,608.01 L610.7,608.82 L611.2,609.58 L611.7,610.28 L612.2,610.93 L612.7,611.54 L613.2,612.1 L613.7,612.62 L614.45,613.34 L615.2,613.99 L615.95,614.57 L616.7,615.11 L617.45,615.59 L618.2,616.04 L618.95,616.45 L619.7,616.83 L620.45,617.18 L621.2,617.51 L621.95,617.82 L622.7,618.11 L623.45,618.39 L624.2,618.65 L624.95,618.91 L625.7,619.15 L626.45,619.39 L627.2,619.61 L627.95,619.83 L628.7,620.03 L629.45,620.23 L630.2,620.43 L630.95,620.61 L631.7,620.79 L632.45,620.97 L633.2,621.14 L633.95,621.31 L634.7,621.47 L635.45,621.62 L636.2,621.78 L636.95,621.93 L637.7,622.07 L638.45,622.22 L639.2,622.36 L639.95,622.5 L640.7,622.63 L641.45,622.77 L642.2,622.9 L642.95,623.03 L643.7,623.15 L644.45,623.28 L645.2,623.4 L645.95,623.52 L646.7,623.64 L647.45,623.76 L648.2,623.87 L648.95,623.99 L649.7,624.1 L650.45,624.2 L651.2,624.31 L651.95,624.41 L652.7,624.52 L653.45,624.62 L654.2,624.71 L654.95,624.81 L655.7,624.9 L656.45,624.99 L657.2,625.08 L657.95,625.17 L658.7,625.26 L659.45,625.34 L660.2,625.42 L660.95,625.5 L661.7,625.58 L662.45,625.66 L663.2,625.73 L663.95,625.81 L664.7,625.88 L664.9,625.9" fill="none" stroke="#000094" stroke-width="2" stroke-linejoin="round"/>
<line x1="196.5" y1="384.9" x2="197.7" y2="630.8" stroke="#2bbf72" stroke-width="1.15" stroke-dasharray="6.2 2.4 1 2.4"/>
<line x1="320.5" y1="380.8" x2="321.5" y2="627" stroke="#2bbf72" stroke-width="1.15" stroke-dasharray="6.2 2.4 1 2.4"/>
<line x1="443.3" y1="384.9" x2="444.4" y2="629" stroke="#2bbf72" stroke-width="1.15" stroke-dasharray="6.2 2.4 1 2.4"/>
<line x1="564.5" y1="384.9" x2="565.5" y2="631.7" stroke="#2bbf72" stroke-width="1.15" stroke-dasharray="6.2 2.4 1 2.4"/>
<text x="119.3" y="73.1" font-size="17.4">Step I</text>
<text x="243" y="73.1" font-size="17.4">Step II</text>
<text x="349" y="73.1" font-size="17.4">Step III</text>
<text x="499" y="73.1" font-size="17.4">Step IV</text>
<text x="618.7" y="73.1" font-size="17.4">Step V</text>
<text x="116.8" y="460.7" font-size="17.4">Step I</text>
<text x="240.3" y="460.7" font-size="17.4">Step II</text>
<text x="346.8" y="460.7" font-size="17.4">Step III</text>
<text x="496.8" y="460.7" font-size="17.4">Step IV</text>
<text x="615.9" y="460.7" font-size="17.4">Step V</text>
<text x="371.5" y="324.6" font-size="14" text-anchor="middle">Time [h]</text>
<text x="383.4" y="672.3" font-size="14.6" text-anchor="middle">Time [h]</text>
<text transform="translate(13.2,291) rotate(-90)" font-size="14.27">Moisture content of cones [kg<tspan font-size="9.5" dx="0.6" dy="2.5"> water</tspan><tspan dx="0.9" dy="-2.5"> · kg</tspan><tspan font-size="9.6" dx="1.1" dy="2.5"> d.w.</tspan><tspan font-size="9" dx="0.5" dy="-8.1">-1</tspan><tspan dx="0.5" dy="5.6">]</tspan></text>
<text transform="translate(16.2,547.4) rotate(-90)" font-size="15.35">Extraction rate [h<tspan font-size="9.8" dy="-4.6">-1</tspan><tspan dy="4.6">]</tspan></text>
<text x="7.8" y="15.3" font-size="18" font-weight="bold">a</text>
<text x="5" y="387.6" font-size="18" font-weight="bold">b</text>
<line x1="527" y1="332" x2="551" y2="332" stroke="#3d8fdc" stroke-width="1.6" stroke-dasharray="1.6 1.1"/>
<text class="sans" x="554.2" y="336.4" font-size="16.4" fill="#262626">actual</text>
<line x1="614" y1="332" x2="638.2" y2="332" stroke="#ff3030" stroke-width="1.6" stroke-dasharray="1.6 1.1"/>
<text class="sans" x="640.3" y="336.4" font-size="16.4" fill="#262626">model</text>
</svg></body></html>
